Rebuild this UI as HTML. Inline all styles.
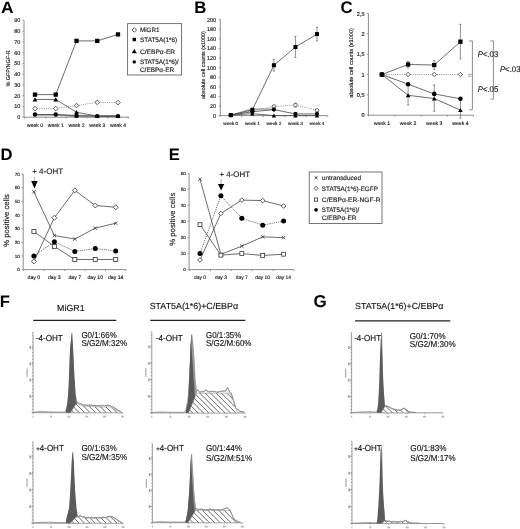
<!DOCTYPE html>
<html><head><meta charset="utf-8"><style>
html,body{margin:0;padding:0;background:#fff;width:520px;height:529px;overflow:hidden}
svg{display:block;filter:blur(0.3px)}
text{font-family:"Liberation Sans", sans-serif;text-rendering:geometricPrecision}
text{stroke:#222;stroke-width:0.14px}
text[font-weight=bold]{stroke:none}
</style></head><body>
<svg width="520" height="529" viewBox="0 0 520 529">
<rect width="520" height="529" fill="#fff"/>
<text x="1.00" y="12.80" font-size="16.4" font-weight="bold" fill="#000" textLength="12.6" lengthAdjust="spacingAndGlyphs">A</text>
<line x1="24.00" y1="20.40" x2="24.00" y2="117.20" stroke="#808080" stroke-width="0.9"/>
<line x1="22.50" y1="117.20" x2="24.00" y2="117.20" stroke="#808080" stroke-width="0.8"/>
<text x="20.30" y="119.15" font-size="5.5" text-anchor="end" fill="#111">0</text>
<line x1="22.50" y1="106.45" x2="24.00" y2="106.45" stroke="#808080" stroke-width="0.8"/>
<text x="20.30" y="108.40" font-size="5.5" text-anchor="end" fill="#111">10</text>
<line x1="22.50" y1="95.70" x2="24.00" y2="95.70" stroke="#808080" stroke-width="0.8"/>
<text x="20.30" y="97.65" font-size="5.5" text-anchor="end" fill="#111">20</text>
<line x1="22.50" y1="84.95" x2="24.00" y2="84.95" stroke="#808080" stroke-width="0.8"/>
<text x="20.30" y="86.90" font-size="5.5" text-anchor="end" fill="#111">30</text>
<line x1="22.50" y1="74.20" x2="24.00" y2="74.20" stroke="#808080" stroke-width="0.8"/>
<text x="20.30" y="76.15" font-size="5.5" text-anchor="end" fill="#111">40</text>
<line x1="22.50" y1="63.45" x2="24.00" y2="63.45" stroke="#808080" stroke-width="0.8"/>
<text x="20.30" y="65.40" font-size="5.5" text-anchor="end" fill="#111">50</text>
<line x1="22.50" y1="52.70" x2="24.00" y2="52.70" stroke="#808080" stroke-width="0.8"/>
<text x="20.30" y="54.65" font-size="5.5" text-anchor="end" fill="#111">60</text>
<line x1="22.50" y1="41.95" x2="24.00" y2="41.95" stroke="#808080" stroke-width="0.8"/>
<text x="20.30" y="43.90" font-size="5.5" text-anchor="end" fill="#111">70</text>
<line x1="22.50" y1="31.20" x2="24.00" y2="31.20" stroke="#808080" stroke-width="0.8"/>
<text x="20.30" y="33.15" font-size="5.5" text-anchor="end" fill="#111">80</text>
<line x1="22.50" y1="20.45" x2="24.00" y2="20.45" stroke="#808080" stroke-width="0.8"/>
<text x="20.30" y="22.40" font-size="5.5" text-anchor="end" fill="#111">90</text>
<line x1="24.00" y1="117.20" x2="128.90" y2="117.20" stroke="#808080" stroke-width="0.9"/>
<line x1="24.60" y1="117.20" x2="24.60" y2="118.70" stroke="#808080" stroke-width="0.8"/>
<line x1="45.35" y1="117.20" x2="45.35" y2="118.70" stroke="#808080" stroke-width="0.8"/>
<line x1="66.10" y1="117.20" x2="66.10" y2="118.70" stroke="#808080" stroke-width="0.8"/>
<line x1="86.85" y1="117.20" x2="86.85" y2="118.70" stroke="#808080" stroke-width="0.8"/>
<line x1="107.60" y1="117.20" x2="107.60" y2="118.70" stroke="#808080" stroke-width="0.8"/>
<line x1="128.35" y1="117.20" x2="128.35" y2="118.70" stroke="#808080" stroke-width="0.8"/>
<text x="35.00" y="126.80" font-size="5" text-anchor="middle" fill="#111">week 0</text>
<text x="55.75" y="126.80" font-size="5" text-anchor="middle" fill="#111">week 1</text>
<text x="76.50" y="126.80" font-size="5" text-anchor="middle" fill="#111">week 2</text>
<text x="97.25" y="126.80" font-size="5" text-anchor="middle" fill="#111">week 3</text>
<text x="118.00" y="126.80" font-size="5" text-anchor="middle" fill="#111">week 4</text>
<text x="10.50" y="68.40" font-size="5.5" text-anchor="middle" fill="#111" textLength="36.4" lengthAdjust="spacingAndGlyphs" transform="rotate(-90 10.50 68.40)">% GFP/NGF-R</text>
<polyline points="35.00,114.84 55.75,114.84 76.50,115.59 97.25,116.12 118.00,116.12" fill="none" stroke="#999" stroke-width="1.6" stroke-linejoin="round"/>
<polyline points="55.75,115.05 76.50,116.56 97.25,116.88" fill="none" stroke="#aaa" stroke-width="1.4" stroke-linejoin="round"/>
<polyline points="35.00,108.60 55.75,108.60 76.50,105.59 97.25,102.37 118.00,102.58" fill="none" stroke="#777" stroke-width="0.8" stroke-linejoin="round" stroke-dasharray="1,1.2"/>
<polyline points="35.00,114.51 55.75,114.51 76.50,115.91 97.25,116.12 118.00,116.12" fill="none" stroke="#464646" stroke-width="0.8" stroke-linejoin="round"/>
<polyline points="35.00,99.46 55.75,99.46 76.50,112.26 97.25,116.12 118.00,116.12" fill="none" stroke="#464646" stroke-width="0.8" stroke-linejoin="round"/>
<polyline points="35.00,94.62 55.75,94.62 76.50,40.88 97.25,40.88 118.00,34.43" fill="none" stroke="#464646" stroke-width="0.8" stroke-linejoin="round"/>
<polygon points="35.00,106.30 37.30,108.60 35.00,110.90 32.70,108.60" fill="#fff" stroke="#333" stroke-width="0.8"/>
<polygon points="55.75,106.30 58.05,108.60 55.75,110.90 53.45,108.60" fill="#fff" stroke="#333" stroke-width="0.8"/>
<polygon points="76.50,103.29 78.80,105.59 76.50,107.89 74.20,105.59" fill="#fff" stroke="#333" stroke-width="0.8"/>
<polygon points="97.25,100.07 99.55,102.37 97.25,104.67 94.95,102.37" fill="#fff" stroke="#333" stroke-width="0.8"/>
<polygon points="118.00,100.28 120.30,102.58 118.00,104.88 115.70,102.58" fill="#fff" stroke="#333" stroke-width="0.8"/>
<circle cx="35.00" cy="114.51" r="2.20" fill="#000"/>
<circle cx="55.75" cy="114.51" r="2.20" fill="#000"/>
<circle cx="76.50" cy="115.91" r="2.20" fill="#000"/>
<circle cx="97.25" cy="116.12" r="2.20" fill="#000"/>
<circle cx="118.00" cy="116.12" r="2.20" fill="#000"/>
<polygon points="35.00,97.26 37.42,101.44 32.58,101.44" fill="#000"/>
<polygon points="55.75,97.26 58.17,101.44 53.33,101.44" fill="#000"/>
<polygon points="76.50,110.06 78.92,114.24 74.08,114.24" fill="#000"/>
<polygon points="97.25,113.92 99.67,118.11 94.83,118.11" fill="#000"/>
<polygon points="118.00,113.92 120.42,118.11 115.58,118.11" fill="#000"/>
<rect x="32.85" y="92.47" width="4.30" height="4.30" fill="#000"/>
<rect x="53.60" y="92.47" width="4.30" height="4.30" fill="#000"/>
<rect x="74.35" y="38.73" width="4.30" height="4.30" fill="#000"/>
<rect x="95.10" y="38.73" width="4.30" height="4.30" fill="#000"/>
<rect x="115.85" y="32.28" width="4.30" height="4.30" fill="#000"/>
<rect x="127.6" y="23.6" width="54" height="51.4" fill="#fff" stroke="#666" stroke-width="0.9"/>
<polygon points="134.30,27.75 136.55,30.00 134.30,32.25 132.05,30.00" fill="#fff" stroke="#333" stroke-width="0.8"/>
<text x="139.90" y="32.30" font-size="6.4" fill="#1a1a1a" textLength="19.6" lengthAdjust="spacingAndGlyphs">MiGR1</text>
<rect x="132.60" y="37.80" width="3.40" height="3.40" fill="#000"/>
<text x="139.90" y="41.80" font-size="6.4" fill="#1a1a1a" textLength="37.3" lengthAdjust="spacingAndGlyphs">STAT5A(1*6)</text>
<polygon points="134.30,48.90 136.83,53.27 131.77,53.27" fill="#000"/>
<text x="139.90" y="53.50" font-size="6.4" fill="#1a1a1a" textLength="35.3" lengthAdjust="spacingAndGlyphs">C/EBP&#945;-ER</text>
<circle cx="134.30" cy="61.90" r="1.70" fill="#000"/>
<text x="139.90" y="64.20" font-size="6.4" fill="#1a1a1a" textLength="38.7" lengthAdjust="spacingAndGlyphs">STAT5A(1*6)/</text>
<text x="139.90" y="71.70" font-size="6.4" fill="#1a1a1a" textLength="34.4" lengthAdjust="spacingAndGlyphs">C/EBP&#945;-ER</text>
<text x="194.20" y="12.90" font-size="16.8" font-weight="bold" fill="#000">B</text>
<line x1="220.30" y1="19.40" x2="220.30" y2="115.60" stroke="#808080" stroke-width="0.9"/>
<line x1="218.80" y1="115.60" x2="220.30" y2="115.60" stroke="#808080" stroke-width="0.8"/>
<text x="216.10" y="117.55" font-size="5.5" text-anchor="end" fill="#111">0</text>
<line x1="218.80" y1="106.01" x2="220.30" y2="106.01" stroke="#808080" stroke-width="0.8"/>
<text x="216.10" y="107.96" font-size="5.5" text-anchor="end" fill="#111">20</text>
<line x1="218.80" y1="96.42" x2="220.30" y2="96.42" stroke="#808080" stroke-width="0.8"/>
<text x="216.10" y="98.37" font-size="5.5" text-anchor="end" fill="#111">40</text>
<line x1="218.80" y1="86.83" x2="220.30" y2="86.83" stroke="#808080" stroke-width="0.8"/>
<text x="216.10" y="88.78" font-size="5.5" text-anchor="end" fill="#111">60</text>
<line x1="218.80" y1="77.24" x2="220.30" y2="77.24" stroke="#808080" stroke-width="0.8"/>
<text x="216.10" y="79.19" font-size="5.5" text-anchor="end" fill="#111">80</text>
<line x1="218.80" y1="67.65" x2="220.30" y2="67.65" stroke="#808080" stroke-width="0.8"/>
<text x="216.10" y="69.60" font-size="5.5" text-anchor="end" fill="#111">100</text>
<line x1="218.80" y1="58.06" x2="220.30" y2="58.06" stroke="#808080" stroke-width="0.8"/>
<text x="216.10" y="60.01" font-size="5.5" text-anchor="end" fill="#111">120</text>
<line x1="218.80" y1="48.47" x2="220.30" y2="48.47" stroke="#808080" stroke-width="0.8"/>
<text x="216.10" y="50.42" font-size="5.5" text-anchor="end" fill="#111">140</text>
<line x1="218.80" y1="38.88" x2="220.30" y2="38.88" stroke="#808080" stroke-width="0.8"/>
<text x="216.10" y="40.83" font-size="5.5" text-anchor="end" fill="#111">160</text>
<line x1="218.80" y1="29.29" x2="220.30" y2="29.29" stroke="#808080" stroke-width="0.8"/>
<text x="216.10" y="31.24" font-size="5.5" text-anchor="end" fill="#111">180</text>
<line x1="218.80" y1="19.70" x2="220.30" y2="19.70" stroke="#808080" stroke-width="0.8"/>
<text x="216.10" y="21.65" font-size="5.5" text-anchor="end" fill="#111">200</text>
<line x1="220.30" y1="115.60" x2="327.30" y2="115.60" stroke="#808080" stroke-width="0.9"/>
<line x1="220.00" y1="115.60" x2="220.00" y2="117.10" stroke="#808080" stroke-width="0.8"/>
<line x1="241.55" y1="115.60" x2="241.55" y2="117.10" stroke="#808080" stroke-width="0.8"/>
<line x1="263.10" y1="115.60" x2="263.10" y2="117.10" stroke="#808080" stroke-width="0.8"/>
<line x1="284.65" y1="115.60" x2="284.65" y2="117.10" stroke="#808080" stroke-width="0.8"/>
<line x1="306.20" y1="115.60" x2="306.20" y2="117.10" stroke="#808080" stroke-width="0.8"/>
<line x1="327.75" y1="115.60" x2="327.75" y2="117.10" stroke="#808080" stroke-width="0.8"/>
<text x="230.80" y="124.50" font-size="4.7" text-anchor="middle" fill="#111">week 0</text>
<text x="252.35" y="124.50" font-size="4.7" text-anchor="middle" fill="#111">week 1</text>
<text x="273.90" y="124.50" font-size="4.7" text-anchor="middle" fill="#111">week 2</text>
<text x="295.45" y="124.50" font-size="4.7" text-anchor="middle" fill="#111">week 3</text>
<text x="317.00" y="124.50" font-size="4.7" text-anchor="middle" fill="#111">week 4</text>
<text x="204.70" y="65.10" font-size="5.4" text-anchor="middle" fill="#111" textLength="68.0" lengthAdjust="spacingAndGlyphs" transform="rotate(-90 204.70 65.10)">absolute cell counts (x1000)</text>
<polyline points="230.80,115.12 252.35,108.89 273.90,109.37" fill="none" stroke="#aaa" stroke-width="1.5" stroke-linejoin="round"/>
<polyline points="230.80,115.12 252.35,110.80 273.90,106.49 295.45,105.05 317.00,110.33" fill="none" stroke="#777" stroke-width="0.8" stroke-linejoin="round" stroke-dasharray="1,1.2"/>
<polyline points="230.80,115.12 252.35,113.68 273.90,115.60 295.45,115.60 317.00,115.60" fill="none" stroke="#464646" stroke-width="0.8" stroke-linejoin="round"/>
<polyline points="230.80,115.12 252.35,111.76 273.90,109.61 295.45,113.92 317.00,113.92" fill="none" stroke="#464646" stroke-width="0.8" stroke-linejoin="round"/>
<polyline points="230.80,115.12 252.35,109.85 273.90,65.25 295.45,47.03 317.00,34.08" fill="none" stroke="#464646" stroke-width="0.8" stroke-linejoin="round"/>
<line x1="273.90" y1="59.50" x2="273.90" y2="71.01" stroke="#666" stroke-width="0.7"/>
<line x1="272.80" y1="59.50" x2="275.00" y2="59.50" stroke="#666" stroke-width="0.7"/>
<line x1="272.80" y1="71.01" x2="275.00" y2="71.01" stroke="#666" stroke-width="0.7"/>
<line x1="295.45" y1="36.48" x2="295.45" y2="57.58" stroke="#666" stroke-width="0.7"/>
<line x1="294.35" y1="36.48" x2="296.55" y2="36.48" stroke="#666" stroke-width="0.7"/>
<line x1="294.35" y1="57.58" x2="296.55" y2="57.58" stroke="#666" stroke-width="0.7"/>
<line x1="317.00" y1="27.37" x2="317.00" y2="40.80" stroke="#666" stroke-width="0.7"/>
<line x1="315.90" y1="27.37" x2="318.10" y2="27.37" stroke="#666" stroke-width="0.7"/>
<line x1="315.90" y1="40.80" x2="318.10" y2="40.80" stroke="#666" stroke-width="0.7"/>
<line x1="295.45" y1="103.13" x2="295.45" y2="106.97" stroke="#666" stroke-width="0.7"/>
<line x1="294.35" y1="103.13" x2="296.55" y2="103.13" stroke="#666" stroke-width="0.7"/>
<line x1="294.35" y1="106.97" x2="296.55" y2="106.97" stroke="#666" stroke-width="0.7"/>
<line x1="252.35" y1="107.93" x2="252.35" y2="112.24" stroke="#666" stroke-width="0.7"/>
<line x1="251.25" y1="107.93" x2="253.45" y2="107.93" stroke="#666" stroke-width="0.7"/>
<line x1="251.25" y1="112.24" x2="253.45" y2="112.24" stroke="#666" stroke-width="0.7"/>
<circle cx="230.80" cy="115.12" r="1.80" fill="#fff" stroke="#444" stroke-width="0.8"/>
<circle cx="252.35" cy="110.80" r="1.80" fill="#fff" stroke="#444" stroke-width="0.8"/>
<circle cx="273.90" cy="106.49" r="1.80" fill="#fff" stroke="#444" stroke-width="0.8"/>
<circle cx="295.45" cy="105.05" r="1.80" fill="#fff" stroke="#444" stroke-width="0.8"/>
<circle cx="317.00" cy="110.33" r="1.80" fill="#fff" stroke="#444" stroke-width="0.8"/>
<polygon points="230.80,113.12 233.00,116.92 228.60,116.92" fill="#000"/>
<polygon points="252.35,111.68 254.55,115.48 250.15,115.48" fill="#000"/>
<polygon points="273.90,113.60 276.10,117.40 271.70,117.40" fill="#000"/>
<polygon points="295.45,113.60 297.65,117.40 293.25,117.40" fill="#000"/>
<polygon points="317.00,113.60 319.20,117.40 314.80,117.40" fill="#000"/>
<rect x="228.80" y="113.12" width="4.00" height="4.00" fill="#000"/>
<rect x="250.35" y="107.85" width="4.00" height="4.00" fill="#000"/>
<rect x="271.90" y="63.25" width="4.00" height="4.00" fill="#000"/>
<rect x="293.45" y="45.03" width="4.00" height="4.00" fill="#000"/>
<rect x="315.00" y="32.08" width="4.00" height="4.00" fill="#000"/>
<circle cx="230.80" cy="115.12" r="2.10" fill="#000"/>
<circle cx="252.35" cy="111.76" r="2.10" fill="#000"/>
<circle cx="273.90" cy="109.61" r="2.10" fill="#000"/>
<circle cx="295.45" cy="113.92" r="2.10" fill="#000"/>
<circle cx="317.00" cy="113.92" r="2.10" fill="#000"/>
<text x="340.40" y="13.00" font-size="16.8" font-weight="bold" fill="#000">C</text>
<line x1="368.40" y1="13.30" x2="368.40" y2="115.20" stroke="#808080" stroke-width="0.9"/>
<line x1="366.90" y1="115.20" x2="368.40" y2="115.20" stroke="#808080" stroke-width="0.8"/>
<text x="364.50" y="117.25" font-size="5.6" text-anchor="end" fill="#111">0</text>
<line x1="366.90" y1="94.85" x2="368.40" y2="94.85" stroke="#808080" stroke-width="0.8"/>
<text x="364.50" y="96.90" font-size="5.6" text-anchor="end" fill="#111">0,5</text>
<line x1="366.90" y1="74.50" x2="368.40" y2="74.50" stroke="#808080" stroke-width="0.8"/>
<text x="364.50" y="76.55" font-size="5.6" text-anchor="end" fill="#111">1</text>
<line x1="366.90" y1="54.15" x2="368.40" y2="54.15" stroke="#808080" stroke-width="0.8"/>
<text x="364.50" y="56.20" font-size="5.6" text-anchor="end" fill="#111">1,5</text>
<line x1="366.90" y1="33.80" x2="368.40" y2="33.80" stroke="#808080" stroke-width="0.8"/>
<text x="364.50" y="35.85" font-size="5.6" text-anchor="end" fill="#111">2</text>
<line x1="366.90" y1="13.45" x2="368.40" y2="13.45" stroke="#808080" stroke-width="0.8"/>
<text x="364.50" y="15.50" font-size="5.6" text-anchor="end" fill="#111">2,5</text>
<line x1="368.40" y1="115.20" x2="473.30" y2="115.20" stroke="#808080" stroke-width="0.9"/>
<line x1="368.80" y1="115.20" x2="368.80" y2="116.70" stroke="#808080" stroke-width="0.8"/>
<line x1="394.97" y1="115.20" x2="394.97" y2="116.70" stroke="#808080" stroke-width="0.8"/>
<line x1="421.14" y1="115.20" x2="421.14" y2="116.70" stroke="#808080" stroke-width="0.8"/>
<line x1="447.31" y1="115.20" x2="447.31" y2="116.70" stroke="#808080" stroke-width="0.8"/>
<line x1="473.48" y1="115.20" x2="473.48" y2="116.70" stroke="#808080" stroke-width="0.8"/>
<text x="381.90" y="125.00" font-size="5.2" text-anchor="middle" fill="#111">week 1</text>
<text x="408.07" y="125.00" font-size="5.2" text-anchor="middle" fill="#111">week 2</text>
<text x="434.24" y="125.00" font-size="5.2" text-anchor="middle" fill="#111">week 3</text>
<text x="460.41" y="125.00" font-size="5.2" text-anchor="middle" fill="#111">week 4</text>
<text x="352.70" y="62.90" font-size="5.5" text-anchor="middle" fill="#111" textLength="69.6" lengthAdjust="spacingAndGlyphs" transform="rotate(-90 352.70 62.90)">absolute cell counts (x1000)</text>
<polyline points="381.90,74.50 408.07,74.50 434.24,74.50 460.41,74.50" fill="none" stroke="#777" stroke-width="0.8" stroke-linejoin="round" stroke-dasharray="1,1.2"/>
<polyline points="381.90,74.50 408.07,95.30 434.24,98.51 460.41,110.11" fill="none" stroke="#464646" stroke-width="0.8" stroke-linejoin="round"/>
<polyline points="381.90,74.50 408.07,84.19 434.24,93.91 460.41,98.80" fill="none" stroke="#464646" stroke-width="0.8" stroke-linejoin="round"/>
<polyline points="381.90,74.50 408.07,64.49 434.24,65.02 460.41,41.70" fill="none" stroke="#464646" stroke-width="0.8" stroke-linejoin="round"/>
<line x1="408.07" y1="61.52" x2="408.07" y2="67.99" stroke="#666" stroke-width="0.7"/>
<line x1="406.97" y1="61.52" x2="409.17" y2="61.52" stroke="#666" stroke-width="0.7"/>
<line x1="406.97" y1="67.99" x2="409.17" y2="67.99" stroke="#666" stroke-width="0.7"/>
<line x1="434.24" y1="60.42" x2="434.24" y2="69.62" stroke="#666" stroke-width="0.7"/>
<line x1="433.14" y1="60.42" x2="435.34" y2="60.42" stroke="#666" stroke-width="0.7"/>
<line x1="433.14" y1="69.62" x2="435.34" y2="69.62" stroke="#666" stroke-width="0.7"/>
<line x1="460.41" y1="24.32" x2="460.41" y2="58.79" stroke="#666" stroke-width="0.7"/>
<line x1="459.31" y1="24.32" x2="461.51" y2="24.32" stroke="#666" stroke-width="0.7"/>
<line x1="459.31" y1="58.79" x2="461.51" y2="58.79" stroke="#666" stroke-width="0.7"/>
<line x1="408.07" y1="85.29" x2="408.07" y2="105.03" stroke="#666" stroke-width="0.7"/>
<line x1="406.97" y1="85.29" x2="409.17" y2="85.29" stroke="#666" stroke-width="0.7"/>
<line x1="406.97" y1="105.03" x2="409.17" y2="105.03" stroke="#666" stroke-width="0.7"/>
<line x1="434.24" y1="85.00" x2="434.24" y2="111.21" stroke="#666" stroke-width="0.7"/>
<line x1="433.14" y1="85.00" x2="435.34" y2="85.00" stroke="#666" stroke-width="0.7"/>
<line x1="433.14" y1="111.21" x2="435.34" y2="111.21" stroke="#666" stroke-width="0.7"/>
<line x1="460.41" y1="98.80" x2="460.41" y2="118.05" stroke="#666" stroke-width="0.7"/>
<line x1="459.31" y1="98.80" x2="461.51" y2="98.80" stroke="#666" stroke-width="0.7"/>
<line x1="459.31" y1="118.05" x2="461.51" y2="118.05" stroke="#666" stroke-width="0.7"/>
<polygon points="381.90,72.30 384.10,74.50 381.90,76.70 379.70,74.50" fill="#fff" stroke="#333" stroke-width="0.8"/>
<polygon points="408.07,72.30 410.27,74.50 408.07,76.70 405.87,74.50" fill="#fff" stroke="#333" stroke-width="0.8"/>
<polygon points="434.24,72.30 436.44,74.50 434.24,76.70 432.04,74.50" fill="#fff" stroke="#333" stroke-width="0.8"/>
<polygon points="460.41,72.30 462.61,74.50 460.41,76.70 458.21,74.50" fill="#fff" stroke="#333" stroke-width="0.8"/>
<polygon points="381.90,72.40 384.21,76.39 379.59,76.39" fill="#000"/>
<polygon points="408.07,93.20 410.38,97.19 405.76,97.19" fill="#000"/>
<polygon points="434.24,96.41 436.55,100.40 431.93,100.40" fill="#000"/>
<polygon points="460.41,108.01 462.72,112.00 458.10,112.00" fill="#000"/>
<circle cx="381.90" cy="74.50" r="2.30" fill="#000"/>
<circle cx="408.07" cy="84.19" r="2.30" fill="#000"/>
<circle cx="434.24" cy="93.91" r="2.30" fill="#000"/>
<circle cx="460.41" cy="98.80" r="2.30" fill="#000"/>
<rect x="379.75" y="72.35" width="4.30" height="4.30" fill="#000"/>
<rect x="405.92" y="62.34" width="4.30" height="4.30" fill="#000"/>
<rect x="432.09" y="62.87" width="4.30" height="4.30" fill="#000"/>
<rect x="458.26" y="39.55" width="4.30" height="4.30" fill="#000"/>
<polyline points="469.20,41.00 472.40,41.00 472.40,109.80 469.20,109.80" fill="none" stroke="#808080" stroke-width="0.9" stroke-linejoin="round"/>
<line x1="468.20" y1="74.40" x2="471.60" y2="74.40" stroke="#808080" stroke-width="0.7"/>
<line x1="468.20" y1="76.20" x2="471.60" y2="76.20" stroke="#808080" stroke-width="0.7"/>
<polyline points="490.40,40.90 493.40,40.90 493.40,99.10 490.40,99.10" fill="none" stroke="#808080" stroke-width="0.9" stroke-linejoin="round"/>
<text x="477.70" y="57.10" font-size="8.3" fill="#222" textLength="20.6" lengthAdjust="spacingAndGlyphs"><tspan font-style="italic">P</tspan>&lt;.03</text>
<text x="477.70" y="92.20" font-size="8.3" fill="#222" textLength="20.6" lengthAdjust="spacingAndGlyphs"><tspan font-style="italic">P</tspan>&lt;.05</text>
<text x="499.90" y="72.00" font-size="8.3" fill="#222" textLength="20.6" lengthAdjust="spacingAndGlyphs"><tspan font-style="italic">P</tspan>&lt;.03</text>
<text x="0.40" y="159.80" font-size="16.6" font-weight="bold" fill="#000">D</text>
<line x1="23.20" y1="174.00" x2="23.20" y2="269.60" stroke="#808080" stroke-width="0.9"/>
<line x1="21.70" y1="269.60" x2="23.20" y2="269.60" stroke="#808080" stroke-width="0.8"/>
<text x="19.70" y="271.20" font-size="4.5" text-anchor="end" fill="#111">0</text>
<line x1="21.70" y1="255.96" x2="23.20" y2="255.96" stroke="#808080" stroke-width="0.8"/>
<text x="19.70" y="257.56" font-size="4.5" text-anchor="end" fill="#111">10</text>
<line x1="21.70" y1="242.32" x2="23.20" y2="242.32" stroke="#808080" stroke-width="0.8"/>
<text x="19.70" y="243.92" font-size="4.5" text-anchor="end" fill="#111">20</text>
<line x1="21.70" y1="228.68" x2="23.20" y2="228.68" stroke="#808080" stroke-width="0.8"/>
<text x="19.70" y="230.28" font-size="4.5" text-anchor="end" fill="#111">30</text>
<line x1="21.70" y1="215.04" x2="23.20" y2="215.04" stroke="#808080" stroke-width="0.8"/>
<text x="19.70" y="216.64" font-size="4.5" text-anchor="end" fill="#111">40</text>
<line x1="21.70" y1="201.40" x2="23.20" y2="201.40" stroke="#808080" stroke-width="0.8"/>
<text x="19.70" y="203.00" font-size="4.5" text-anchor="end" fill="#111">50</text>
<line x1="21.70" y1="187.76" x2="23.20" y2="187.76" stroke="#808080" stroke-width="0.8"/>
<text x="19.70" y="189.36" font-size="4.5" text-anchor="end" fill="#111">60</text>
<line x1="21.70" y1="174.12" x2="23.20" y2="174.12" stroke="#808080" stroke-width="0.8"/>
<text x="19.70" y="175.72" font-size="4.5" text-anchor="end" fill="#111">70</text>
<line x1="23.20" y1="269.60" x2="126.20" y2="269.60" stroke="#808080" stroke-width="0.9"/>
<line x1="23.70" y1="269.60" x2="23.70" y2="271.10" stroke="#808080" stroke-width="0.8"/>
<line x1="44.15" y1="269.60" x2="44.15" y2="271.10" stroke="#808080" stroke-width="0.8"/>
<line x1="64.60" y1="269.60" x2="64.60" y2="271.10" stroke="#808080" stroke-width="0.8"/>
<line x1="85.05" y1="269.60" x2="85.05" y2="271.10" stroke="#808080" stroke-width="0.8"/>
<line x1="105.50" y1="269.60" x2="105.50" y2="271.10" stroke="#808080" stroke-width="0.8"/>
<line x1="125.95" y1="269.60" x2="125.95" y2="271.10" stroke="#808080" stroke-width="0.8"/>
<text x="33.90" y="279.30" font-size="5.2" text-anchor="middle" fill="#111">day 0</text>
<text x="54.35" y="279.30" font-size="5.2" text-anchor="middle" fill="#111">day 3</text>
<text x="74.80" y="279.30" font-size="5.2" text-anchor="middle" fill="#111">day 7</text>
<text x="95.25" y="279.30" font-size="5.2" text-anchor="middle" fill="#111">day 10</text>
<text x="115.70" y="279.30" font-size="5.2" text-anchor="middle" fill="#111">day 14</text>
<text x="8.60" y="220.40" font-size="7.7" text-anchor="middle" fill="#111" textLength="52.6" lengthAdjust="spacingAndGlyphs" transform="rotate(-90 8.60 220.40)">% positive cells</text>
<polyline points="33.90,255.96 54.35,241.64 74.80,251.46 95.25,248.59 115.70,250.91" fill="none" stroke="#555" stroke-width="0.9" stroke-linejoin="round" stroke-dasharray="1.1,1.1"/>
<polyline points="33.90,191.85 54.35,235.50 74.80,239.05 95.25,228.13 115.70,223.22" fill="none" stroke="#464646" stroke-width="0.8" stroke-linejoin="round"/>
<polyline points="33.90,261.42 54.35,217.77 74.80,190.35 95.25,205.49 115.70,207.27" fill="none" stroke="#464646" stroke-width="0.8" stroke-linejoin="round"/>
<polyline points="33.90,231.41 54.35,246.41 74.80,259.51 95.25,259.51 115.70,259.51" fill="none" stroke="#464646" stroke-width="0.8" stroke-linejoin="round"/>
<path d="M32.20,190.15L35.60,193.55M35.60,190.15L32.20,193.55" stroke="#333" stroke-width="0.8"/>
<path d="M52.65,233.80L56.05,237.20M56.05,233.80L52.65,237.20" stroke="#333" stroke-width="0.8"/>
<path d="M73.10,237.35L76.50,240.75M76.50,237.35L73.10,240.75" stroke="#333" stroke-width="0.8"/>
<path d="M93.55,226.43L96.95,229.83M96.95,226.43L93.55,229.83" stroke="#333" stroke-width="0.8"/>
<path d="M114.00,221.52L117.40,224.92M117.40,221.52L114.00,224.92" stroke="#333" stroke-width="0.8"/>
<polygon points="33.90,258.92 36.40,261.42 33.90,263.92 31.40,261.42" fill="#fff" stroke="#333" stroke-width="0.8"/>
<polygon points="54.35,215.27 56.85,217.77 54.35,220.27 51.85,217.77" fill="#fff" stroke="#333" stroke-width="0.8"/>
<polygon points="74.80,187.85 77.30,190.35 74.80,192.85 72.30,190.35" fill="#fff" stroke="#333" stroke-width="0.8"/>
<polygon points="95.25,202.99 97.75,205.49 95.25,207.99 92.75,205.49" fill="#fff" stroke="#333" stroke-width="0.8"/>
<polygon points="115.70,204.77 118.20,207.27 115.70,209.77 113.20,207.27" fill="#fff" stroke="#333" stroke-width="0.8"/>
<rect x="31.90" y="229.41" width="4.00" height="4.00" fill="#fff" stroke="#333" stroke-width="0.8"/>
<rect x="52.35" y="244.41" width="4.00" height="4.00" fill="#fff" stroke="#333" stroke-width="0.8"/>
<rect x="72.80" y="257.51" width="4.00" height="4.00" fill="#fff" stroke="#333" stroke-width="0.8"/>
<rect x="93.25" y="257.51" width="4.00" height="4.00" fill="#fff" stroke="#333" stroke-width="0.8"/>
<rect x="113.70" y="257.51" width="4.00" height="4.00" fill="#fff" stroke="#333" stroke-width="0.8"/>
<circle cx="33.90" cy="255.96" r="2.50" fill="#000"/>
<circle cx="54.35" cy="241.64" r="2.50" fill="#000"/>
<circle cx="74.80" cy="251.46" r="2.50" fill="#000"/>
<circle cx="95.25" cy="248.59" r="2.50" fill="#000"/>
<circle cx="115.70" cy="250.91" r="2.50" fill="#000"/>
<text x="32.20" y="174.00" font-size="8.0" fill="#111" textLength="30.9" lengthAdjust="spacingAndGlyphs">+ 4-OHT</text>
<line x1="34.45" y1="176.90" x2="34.45" y2="182.00" stroke="#999" stroke-width="0.8"/>
<polygon points="31.2,181.1 37.7,181.1 34.45,188.4" fill="#000"/>
<text x="168.80" y="159.70" font-size="16.6" font-weight="bold" fill="#000">E</text>
<line x1="189.10" y1="173.30" x2="189.10" y2="269.60" stroke="#808080" stroke-width="0.9"/>
<line x1="187.60" y1="269.60" x2="189.10" y2="269.60" stroke="#808080" stroke-width="0.8"/>
<text x="185.90" y="271.20" font-size="4.6" text-anchor="end" fill="#111">0</text>
<line x1="187.60" y1="253.55" x2="189.10" y2="253.55" stroke="#808080" stroke-width="0.8"/>
<text x="185.90" y="255.15" font-size="4.6" text-anchor="end" fill="#111">10</text>
<line x1="187.60" y1="237.50" x2="189.10" y2="237.50" stroke="#808080" stroke-width="0.8"/>
<text x="185.90" y="239.10" font-size="4.6" text-anchor="end" fill="#111">20</text>
<line x1="187.60" y1="221.45" x2="189.10" y2="221.45" stroke="#808080" stroke-width="0.8"/>
<text x="185.90" y="223.05" font-size="4.6" text-anchor="end" fill="#111">30</text>
<line x1="187.60" y1="205.40" x2="189.10" y2="205.40" stroke="#808080" stroke-width="0.8"/>
<text x="185.90" y="207.00" font-size="4.6" text-anchor="end" fill="#111">40</text>
<line x1="187.60" y1="189.35" x2="189.10" y2="189.35" stroke="#808080" stroke-width="0.8"/>
<text x="185.90" y="190.95" font-size="4.6" text-anchor="end" fill="#111">50</text>
<line x1="187.60" y1="173.30" x2="189.10" y2="173.30" stroke="#808080" stroke-width="0.8"/>
<text x="185.90" y="174.90" font-size="4.6" text-anchor="end" fill="#111">60</text>
<line x1="189.10" y1="269.60" x2="293.70" y2="269.60" stroke="#808080" stroke-width="0.9"/>
<line x1="189.60" y1="269.60" x2="189.60" y2="271.10" stroke="#808080" stroke-width="0.8"/>
<line x1="210.50" y1="269.60" x2="210.50" y2="271.10" stroke="#808080" stroke-width="0.8"/>
<line x1="231.40" y1="269.60" x2="231.40" y2="271.10" stroke="#808080" stroke-width="0.8"/>
<line x1="252.30" y1="269.60" x2="252.30" y2="271.10" stroke="#808080" stroke-width="0.8"/>
<line x1="273.20" y1="269.60" x2="273.20" y2="271.10" stroke="#808080" stroke-width="0.8"/>
<line x1="294.10" y1="269.60" x2="294.10" y2="271.10" stroke="#808080" stroke-width="0.8"/>
<text x="200.00" y="279.00" font-size="4.9" text-anchor="middle" fill="#111">day 0</text>
<text x="220.90" y="279.00" font-size="4.9" text-anchor="middle" fill="#111">day 3</text>
<text x="241.80" y="279.00" font-size="4.9" text-anchor="middle" fill="#111">day 7</text>
<text x="262.70" y="279.00" font-size="4.9" text-anchor="middle" fill="#111">day 10</text>
<text x="283.60" y="279.00" font-size="4.9" text-anchor="middle" fill="#111">day 14</text>
<text x="175.20" y="219.20" font-size="7.7" text-anchor="middle" fill="#111" textLength="53.2" lengthAdjust="spacingAndGlyphs" transform="rotate(-90 175.20 219.20)">% positive cells</text>
<polyline points="200.00,253.55 220.90,195.77 241.80,218.24 262.70,225.14 283.60,220.97" fill="none" stroke="#555" stroke-width="0.9" stroke-linejoin="round" stroke-dasharray="1.1,1.1"/>
<polyline points="200.00,179.24 220.90,254.35 241.80,246.17 262.70,236.86 283.60,237.66" fill="none" stroke="#464646" stroke-width="0.8" stroke-linejoin="round"/>
<polyline points="200.00,259.97 220.90,213.43 241.80,200.10 262.70,200.59 283.60,206.04" fill="none" stroke="#464646" stroke-width="0.8" stroke-linejoin="round"/>
<polyline points="200.00,224.66 220.90,255.16 241.80,253.55 262.70,255.48 283.60,254.19" fill="none" stroke="#464646" stroke-width="0.8" stroke-linejoin="round"/>
<path d="M198.30,177.54L201.70,180.94M201.70,177.54L198.30,180.94" stroke="#333" stroke-width="0.8"/>
<path d="M219.20,252.65L222.60,256.05M222.60,252.65L219.20,256.05" stroke="#333" stroke-width="0.8"/>
<path d="M240.10,244.47L243.50,247.87M243.50,244.47L240.10,247.87" stroke="#333" stroke-width="0.8"/>
<path d="M261.00,235.16L264.40,238.56M264.40,235.16L261.00,238.56" stroke="#333" stroke-width="0.8"/>
<path d="M281.90,235.96L285.30,239.36M285.30,235.96L281.90,239.36" stroke="#333" stroke-width="0.8"/>
<polygon points="200.00,257.67 202.30,259.97 200.00,262.27 197.70,259.97" fill="#fff" stroke="#333" stroke-width="0.8"/>
<polygon points="220.90,211.12 223.20,213.43 220.90,215.73 218.60,213.43" fill="#fff" stroke="#333" stroke-width="0.8"/>
<polygon points="241.80,197.80 244.10,200.10 241.80,202.40 239.50,200.10" fill="#fff" stroke="#333" stroke-width="0.8"/>
<polygon points="262.70,198.29 265.00,200.59 262.70,202.89 260.40,200.59" fill="#fff" stroke="#333" stroke-width="0.8"/>
<polygon points="283.60,203.74 285.90,206.04 283.60,208.34 281.30,206.04" fill="#fff" stroke="#333" stroke-width="0.8"/>
<rect x="198.05" y="222.71" width="3.90" height="3.90" fill="#fff" stroke="#333" stroke-width="0.8"/>
<rect x="218.95" y="253.21" width="3.90" height="3.90" fill="#fff" stroke="#333" stroke-width="0.8"/>
<rect x="239.85" y="251.60" width="3.90" height="3.90" fill="#fff" stroke="#333" stroke-width="0.8"/>
<rect x="260.75" y="253.53" width="3.90" height="3.90" fill="#fff" stroke="#333" stroke-width="0.8"/>
<rect x="281.65" y="252.24" width="3.90" height="3.90" fill="#fff" stroke="#333" stroke-width="0.8"/>
<circle cx="200.00" cy="253.55" r="2.50" fill="#000"/>
<circle cx="220.90" cy="195.77" r="2.50" fill="#000"/>
<circle cx="241.80" cy="218.24" r="2.50" fill="#000"/>
<circle cx="262.70" cy="225.14" r="2.50" fill="#000"/>
<circle cx="283.60" cy="220.97" r="2.50" fill="#000"/>
<text x="219.40" y="177.30" font-size="8.0" fill="#111" textLength="30.8" lengthAdjust="spacingAndGlyphs">+ 4-OHT</text>
<line x1="221.10" y1="179.00" x2="221.10" y2="184.50" stroke="#aaa" stroke-width="1.0"/>
<polygon points="217.9,183.9 224.3,183.9 221.1,190.6" fill="#000"/>
<rect x="309.2" y="172.0" width="72.8" height="51.5" fill="#fff" stroke="#666" stroke-width="0.9"/>
<path d="M314.70,176.30L317.50,179.10M317.50,176.30L314.70,179.10" stroke="#333" stroke-width="1.0"/>
<text x="321.80" y="180.00" font-size="6.4" fill="#1a1a1a" textLength="39.2" lengthAdjust="spacingAndGlyphs">untransduced</text>
<polygon points="316.10,186.25 318.25,188.40 316.10,190.55 313.95,188.40" fill="#fff" stroke="#333" stroke-width="0.8"/>
<text x="321.80" y="190.70" font-size="6.4" fill="#1a1a1a" textLength="56.1" lengthAdjust="spacingAndGlyphs">STAT5A(1*6)-EGFP</text>
<rect x="314.50" y="198.00" width="3.20" height="3.20" fill="#fff" stroke="#333" stroke-width="0.8"/>
<text x="321.80" y="201.90" font-size="6.4" fill="#1a1a1a" textLength="58.9" lengthAdjust="spacingAndGlyphs">C/EBP&#945;-ER-NGF-R</text>
<circle cx="316.10" cy="209.90" r="1.80" fill="#000"/>
<text x="321.80" y="212.20" font-size="6.4" fill="#1a1a1a" textLength="37.4" lengthAdjust="spacingAndGlyphs">STAT5A(1*6)/</text>
<text x="321.80" y="220.40" font-size="6.4" fill="#1a1a1a" textLength="34.8" lengthAdjust="spacingAndGlyphs">C/EBP&#945;-ER</text>
<text x="-0.20" y="306.90" font-size="16.6" font-weight="bold" fill="#000">F</text>
<text x="313.60" y="306.60" font-size="17.2" font-weight="bold" fill="#000" textLength="13.2" lengthAdjust="spacingAndGlyphs">G</text>
<text x="57.10" y="310.60" font-size="8.8" fill="#111" textLength="27.5" lengthAdjust="spacingAndGlyphs">MiGR1</text>
<line x1="33.20" y1="320.30" x2="116.30" y2="320.30" stroke="#222" stroke-width="1.3"/>
<text x="149.70" y="309.00" font-size="8.8" fill="#111" textLength="88.4" lengthAdjust="spacingAndGlyphs">STAT5A(1*6)+C/EBP&#945;</text>
<line x1="150.30" y1="320.40" x2="245.40" y2="320.40" stroke="#222" stroke-width="1.3"/>
<text x="355.10" y="309.10" font-size="8.8" fill="#111" textLength="88.3" lengthAdjust="spacingAndGlyphs">STAT5A(1*6)+C/EBP&#945;</text>
<line x1="355.10" y1="320.90" x2="450.30" y2="320.90" stroke="#222" stroke-width="1.3"/>
<line x1="33.10" y1="332.40" x2="33.10" y2="412.70" stroke="#8a8a8a" stroke-width="0.8"/>
<line x1="32.00" y1="412.70" x2="33.10" y2="412.70" stroke="#777" stroke-width="0.6"/>
<line x1="32.00" y1="409.35" x2="33.10" y2="409.35" stroke="#777" stroke-width="0.6"/>
<line x1="32.00" y1="406.01" x2="33.10" y2="406.01" stroke="#777" stroke-width="0.6"/>
<line x1="32.00" y1="402.66" x2="33.10" y2="402.66" stroke="#777" stroke-width="0.6"/>
<line x1="32.00" y1="399.32" x2="33.10" y2="399.32" stroke="#777" stroke-width="0.6"/>
<line x1="32.00" y1="395.97" x2="33.10" y2="395.97" stroke="#777" stroke-width="0.6"/>
<line x1="32.00" y1="392.62" x2="33.10" y2="392.62" stroke="#777" stroke-width="0.6"/>
<line x1="32.00" y1="389.28" x2="33.10" y2="389.28" stroke="#777" stroke-width="0.6"/>
<line x1="32.00" y1="385.93" x2="33.10" y2="385.93" stroke="#777" stroke-width="0.6"/>
<line x1="32.00" y1="382.59" x2="33.10" y2="382.59" stroke="#777" stroke-width="0.6"/>
<line x1="32.00" y1="379.24" x2="33.10" y2="379.24" stroke="#777" stroke-width="0.6"/>
<line x1="32.00" y1="375.90" x2="33.10" y2="375.90" stroke="#777" stroke-width="0.6"/>
<line x1="32.00" y1="372.55" x2="33.10" y2="372.55" stroke="#777" stroke-width="0.6"/>
<line x1="32.00" y1="369.20" x2="33.10" y2="369.20" stroke="#777" stroke-width="0.6"/>
<line x1="32.00" y1="365.86" x2="33.10" y2="365.86" stroke="#777" stroke-width="0.6"/>
<line x1="32.00" y1="362.51" x2="33.10" y2="362.51" stroke="#777" stroke-width="0.6"/>
<line x1="32.00" y1="359.17" x2="33.10" y2="359.17" stroke="#777" stroke-width="0.6"/>
<line x1="32.00" y1="355.82" x2="33.10" y2="355.82" stroke="#777" stroke-width="0.6"/>
<line x1="32.00" y1="352.47" x2="33.10" y2="352.47" stroke="#777" stroke-width="0.6"/>
<line x1="32.00" y1="349.13" x2="33.10" y2="349.13" stroke="#777" stroke-width="0.6"/>
<line x1="32.00" y1="345.78" x2="33.10" y2="345.78" stroke="#777" stroke-width="0.6"/>
<line x1="32.00" y1="342.44" x2="33.10" y2="342.44" stroke="#777" stroke-width="0.6"/>
<line x1="32.00" y1="339.09" x2="33.10" y2="339.09" stroke="#777" stroke-width="0.6"/>
<line x1="32.00" y1="335.75" x2="33.10" y2="335.75" stroke="#777" stroke-width="0.6"/>
<line x1="32.00" y1="332.40" x2="33.10" y2="332.40" stroke="#777" stroke-width="0.6"/>
<line x1="31.50" y1="412.70" x2="33.10" y2="412.70" stroke="#777" stroke-width="0.7"/>
<line x1="31.50" y1="396.38" x2="33.10" y2="396.38" stroke="#777" stroke-width="0.7"/>
<line x1="31.50" y1="380.05" x2="33.10" y2="380.05" stroke="#777" stroke-width="0.7"/>
<line x1="31.50" y1="363.72" x2="33.10" y2="363.72" stroke="#777" stroke-width="0.7"/>
<line x1="31.50" y1="347.40" x2="33.10" y2="347.40" stroke="#777" stroke-width="0.7"/>
<line x1="33.10" y1="412.70" x2="122.50" y2="412.70" stroke="#8a8a8a" stroke-width="0.9"/>
<line x1="33.10" y1="412.70" x2="33.10" y2="414.20" stroke="#999" stroke-width="0.6"/>
<line x1="50.98" y1="412.70" x2="50.98" y2="414.20" stroke="#999" stroke-width="0.6"/>
<line x1="68.86" y1="412.70" x2="68.86" y2="414.20" stroke="#999" stroke-width="0.6"/>
<line x1="86.74" y1="412.70" x2="86.74" y2="414.20" stroke="#999" stroke-width="0.6"/>
<line x1="104.62" y1="412.70" x2="104.62" y2="414.20" stroke="#999" stroke-width="0.6"/>
<line x1="122.50" y1="412.70" x2="122.50" y2="414.20" stroke="#999" stroke-width="0.6"/>
<text x="35.90" y="340.70" font-size="8.7" fill="#111" textLength="26.9" lengthAdjust="spacingAndGlyphs">-4-OHT</text>
<text x="81.40" y="338.00" font-size="8.6" fill="#111" textLength="35.3" lengthAdjust="spacingAndGlyphs">G0/1:66%</text>
<text x="81.40" y="346.00" font-size="8.6" fill="#111" textLength="45.9" lengthAdjust="spacingAndGlyphs">S/G2/M:32%</text>
<polyline points="33.10,412.30 37.00,411.90 42.00,411.30 50.00,411.90 60.00,412.20 64.50,412.10 66.00,409.70 68.50,402.70 70.80,372.70 71.90,333.20 73.20,372.70 75.20,400.70 77.10,402.50 80.00,403.70 83.40,404.90 94.00,405.50 104.60,405.90 108.80,405.10 114.00,407.70 119.40,410.90 121.50,412.40" fill="none" stroke="#8c8c8c" stroke-width="0.8" stroke-linejoin="round"/>
<polygon points="65.70,412.70 66.30,408.80 67.30,402.30 68.10,394.30 68.90,378.20 69.40,362.20 70.20,346.10 71.10,338.70 71.70,333.40 72.30,338.70 73.00,346.10 73.80,362.20 74.60,378.20 75.70,394.30 76.90,402.30 78.30,408.80 77.70,412.70" fill="#5b5b5b"/>
<clipPath id="h393"><polygon points="70.50,412.70 74.60,406.20 75.80,404.20 77.10,403.30 79.00,404.70 83.40,406.10 94.00,406.70 104.60,407.10 108.80,406.70 114.00,408.90 119.40,411.50 121.50,412.70"/></clipPath>
<polygon points="70.50,412.70 74.60,406.20 75.80,404.20 77.10,403.30 79.00,404.70 83.40,406.10 94.00,406.70 104.60,407.10 108.80,406.70 114.00,408.90 119.40,411.50 121.50,412.70" fill="#fff" stroke="#888" stroke-width="0.5"/>
<g clip-path="url(#h393)"><line x1="-10.10" y1="382.70" x2="19.90" y2="412.70" stroke="#444" stroke-width="0.8"/><line x1="-4.70" y1="382.70" x2="25.30" y2="412.70" stroke="#444" stroke-width="0.8"/><line x1="0.70" y1="382.70" x2="30.70" y2="412.70" stroke="#444" stroke-width="0.8"/><line x1="6.10" y1="382.70" x2="36.10" y2="412.70" stroke="#444" stroke-width="0.8"/><line x1="11.50" y1="382.70" x2="41.50" y2="412.70" stroke="#444" stroke-width="0.8"/><line x1="16.90" y1="382.70" x2="46.90" y2="412.70" stroke="#444" stroke-width="0.8"/><line x1="22.30" y1="382.70" x2="52.30" y2="412.70" stroke="#444" stroke-width="0.8"/><line x1="27.70" y1="382.70" x2="57.70" y2="412.70" stroke="#444" stroke-width="0.8"/><line x1="33.10" y1="382.70" x2="63.10" y2="412.70" stroke="#444" stroke-width="0.8"/><line x1="38.50" y1="382.70" x2="68.50" y2="412.70" stroke="#444" stroke-width="0.8"/><line x1="43.90" y1="382.70" x2="73.90" y2="412.70" stroke="#444" stroke-width="0.8"/><line x1="49.30" y1="382.70" x2="79.30" y2="412.70" stroke="#444" stroke-width="0.8"/><line x1="54.70" y1="382.70" x2="84.70" y2="412.70" stroke="#444" stroke-width="0.8"/><line x1="60.10" y1="382.70" x2="90.10" y2="412.70" stroke="#444" stroke-width="0.8"/><line x1="65.50" y1="382.70" x2="95.50" y2="412.70" stroke="#444" stroke-width="0.8"/><line x1="70.90" y1="382.70" x2="100.90" y2="412.70" stroke="#444" stroke-width="0.8"/><line x1="76.30" y1="382.70" x2="106.30" y2="412.70" stroke="#444" stroke-width="0.8"/><line x1="81.70" y1="382.70" x2="111.70" y2="412.70" stroke="#444" stroke-width="0.8"/><line x1="87.10" y1="382.70" x2="117.10" y2="412.70" stroke="#444" stroke-width="0.8"/><line x1="92.50" y1="382.70" x2="122.50" y2="412.70" stroke="#444" stroke-width="0.8"/><line x1="97.90" y1="382.70" x2="127.90" y2="412.70" stroke="#444" stroke-width="0.8"/><line x1="103.30" y1="382.70" x2="133.30" y2="412.70" stroke="#444" stroke-width="0.8"/><line x1="108.70" y1="382.70" x2="138.70" y2="412.70" stroke="#444" stroke-width="0.8"/><line x1="114.10" y1="382.70" x2="144.10" y2="412.70" stroke="#444" stroke-width="0.8"/><line x1="119.50" y1="382.70" x2="149.50" y2="412.70" stroke="#444" stroke-width="0.8"/><line x1="124.90" y1="382.70" x2="154.90" y2="412.70" stroke="#444" stroke-width="0.8"/><line x1="130.30" y1="382.70" x2="160.30" y2="412.70" stroke="#444" stroke-width="0.8"/><line x1="135.70" y1="382.70" x2="165.70" y2="412.70" stroke="#444" stroke-width="0.8"/><line x1="141.10" y1="382.70" x2="171.10" y2="412.70" stroke="#444" stroke-width="0.8"/><line x1="146.50" y1="382.70" x2="176.50" y2="412.70" stroke="#444" stroke-width="0.8"/><line x1="151.90" y1="382.70" x2="181.90" y2="412.70" stroke="#444" stroke-width="0.8"/><line x1="157.30" y1="382.70" x2="187.30" y2="412.70" stroke="#444" stroke-width="0.8"/><line x1="162.70" y1="382.70" x2="192.70" y2="412.70" stroke="#444" stroke-width="0.8"/><line x1="168.10" y1="382.70" x2="198.10" y2="412.70" stroke="#444" stroke-width="0.8"/><line x1="173.50" y1="382.70" x2="203.50" y2="412.70" stroke="#444" stroke-width="0.8"/><line x1="178.90" y1="382.70" x2="208.90" y2="412.70" stroke="#444" stroke-width="0.8"/><line x1="184.30" y1="382.70" x2="214.30" y2="412.70" stroke="#444" stroke-width="0.8"/><line x1="189.70" y1="382.70" x2="219.70" y2="412.70" stroke="#444" stroke-width="0.8"/></g>
<polyline points="75.20,400.39 77.10,401.77 78.55,403.48 80.00,403.59 81.70,403.80 83.40,405.39 84.73,404.92 86.05,405.48 87.38,405.55 88.70,404.88 90.03,405.58 91.35,404.46 92.67,405.61 94.00,405.05 95.33,405.82 96.65,406.03 97.97,405.65 99.30,406.35 100.62,405.12 101.95,406.02 103.27,405.13 104.60,405.85 106.00,405.96 107.40,405.27 108.80,405.79 110.10,405.17 111.40,406.55 112.70,406.47 114.00,407.43 115.35,408.64 116.70,409.06 118.05,410.99 119.40,410.63 121.50,412.40" fill="none" stroke="#8c8c8c" stroke-width="0.8" stroke-linejoin="round"/>
<rect x="29.50" y="394.98" width="1.5" height="2.8" fill="#999"/>
<rect x="29.50" y="378.65" width="1.5" height="2.8" fill="#999"/>
<rect x="29.50" y="362.32" width="1.5" height="2.8" fill="#999"/>
<rect x="29.50" y="346.00" width="1.5" height="2.8" fill="#999"/>
<rect x="26.50" y="368.55" width="1.2" height="8.5" fill="#aaa"/>
<rect x="32.50" y="415.70" width="1.20" height="1.8" fill="#bbb"/>
<rect x="49.98" y="415.70" width="2.00" height="1.8" fill="#bbb"/>
<rect x="67.36" y="415.70" width="3.00" height="1.8" fill="#bbb"/>
<rect x="85.24" y="415.70" width="3.00" height="1.8" fill="#bbb"/>
<rect x="103.12" y="415.70" width="3.00" height="1.8" fill="#bbb"/>
<rect x="121.00" y="415.70" width="3.00" height="1.8" fill="#bbb"/>
<line x1="151.80" y1="331.80" x2="151.80" y2="412.90" stroke="#8a8a8a" stroke-width="0.8"/>
<line x1="150.70" y1="412.90" x2="151.80" y2="412.90" stroke="#777" stroke-width="0.6"/>
<line x1="150.70" y1="409.52" x2="151.80" y2="409.52" stroke="#777" stroke-width="0.6"/>
<line x1="150.70" y1="406.14" x2="151.80" y2="406.14" stroke="#777" stroke-width="0.6"/>
<line x1="150.70" y1="402.76" x2="151.80" y2="402.76" stroke="#777" stroke-width="0.6"/>
<line x1="150.70" y1="399.38" x2="151.80" y2="399.38" stroke="#777" stroke-width="0.6"/>
<line x1="150.70" y1="396.00" x2="151.80" y2="396.00" stroke="#777" stroke-width="0.6"/>
<line x1="150.70" y1="392.62" x2="151.80" y2="392.62" stroke="#777" stroke-width="0.6"/>
<line x1="150.70" y1="389.25" x2="151.80" y2="389.25" stroke="#777" stroke-width="0.6"/>
<line x1="150.70" y1="385.87" x2="151.80" y2="385.87" stroke="#777" stroke-width="0.6"/>
<line x1="150.70" y1="382.49" x2="151.80" y2="382.49" stroke="#777" stroke-width="0.6"/>
<line x1="150.70" y1="379.11" x2="151.80" y2="379.11" stroke="#777" stroke-width="0.6"/>
<line x1="150.70" y1="375.73" x2="151.80" y2="375.73" stroke="#777" stroke-width="0.6"/>
<line x1="150.70" y1="372.35" x2="151.80" y2="372.35" stroke="#777" stroke-width="0.6"/>
<line x1="150.70" y1="368.97" x2="151.80" y2="368.97" stroke="#777" stroke-width="0.6"/>
<line x1="150.70" y1="365.59" x2="151.80" y2="365.59" stroke="#777" stroke-width="0.6"/>
<line x1="150.70" y1="362.21" x2="151.80" y2="362.21" stroke="#777" stroke-width="0.6"/>
<line x1="150.70" y1="358.83" x2="151.80" y2="358.83" stroke="#777" stroke-width="0.6"/>
<line x1="150.70" y1="355.45" x2="151.80" y2="355.45" stroke="#777" stroke-width="0.6"/>
<line x1="150.70" y1="352.07" x2="151.80" y2="352.07" stroke="#777" stroke-width="0.6"/>
<line x1="150.70" y1="348.70" x2="151.80" y2="348.70" stroke="#777" stroke-width="0.6"/>
<line x1="150.70" y1="345.32" x2="151.80" y2="345.32" stroke="#777" stroke-width="0.6"/>
<line x1="150.70" y1="341.94" x2="151.80" y2="341.94" stroke="#777" stroke-width="0.6"/>
<line x1="150.70" y1="338.56" x2="151.80" y2="338.56" stroke="#777" stroke-width="0.6"/>
<line x1="150.70" y1="335.18" x2="151.80" y2="335.18" stroke="#777" stroke-width="0.6"/>
<line x1="150.70" y1="331.80" x2="151.80" y2="331.80" stroke="#777" stroke-width="0.6"/>
<line x1="150.20" y1="412.90" x2="151.80" y2="412.90" stroke="#777" stroke-width="0.7"/>
<line x1="150.20" y1="396.38" x2="151.80" y2="396.38" stroke="#777" stroke-width="0.7"/>
<line x1="150.20" y1="379.85" x2="151.80" y2="379.85" stroke="#777" stroke-width="0.7"/>
<line x1="150.20" y1="363.32" x2="151.80" y2="363.32" stroke="#777" stroke-width="0.7"/>
<line x1="150.20" y1="346.80" x2="151.80" y2="346.80" stroke="#777" stroke-width="0.7"/>
<line x1="151.80" y1="412.90" x2="245.00" y2="412.90" stroke="#8a8a8a" stroke-width="0.9"/>
<line x1="151.80" y1="412.90" x2="151.80" y2="414.40" stroke="#999" stroke-width="0.6"/>
<line x1="170.44" y1="412.90" x2="170.44" y2="414.40" stroke="#999" stroke-width="0.6"/>
<line x1="189.08" y1="412.90" x2="189.08" y2="414.40" stroke="#999" stroke-width="0.6"/>
<line x1="207.72" y1="412.90" x2="207.72" y2="414.40" stroke="#999" stroke-width="0.6"/>
<line x1="226.36" y1="412.90" x2="226.36" y2="414.40" stroke="#999" stroke-width="0.6"/>
<line x1="245.00" y1="412.90" x2="245.00" y2="414.40" stroke="#999" stroke-width="0.6"/>
<text x="155.90" y="340.70" font-size="8.7" fill="#111" textLength="26.9" lengthAdjust="spacingAndGlyphs">-4-OHT</text>
<text x="206.00" y="338.00" font-size="8.6" fill="#111" textLength="35.3" lengthAdjust="spacingAndGlyphs">G0/1:35%</text>
<text x="206.00" y="346.20" font-size="8.6" fill="#111" textLength="45.5" lengthAdjust="spacingAndGlyphs">S/G2/M:60%</text>
<polyline points="151.80,412.50 160.00,412.00 170.00,412.30 184.00,412.40 186.00,409.90 188.50,394.90 190.70,357.90 191.60,334.70 192.70,357.90 194.30,385.90 196.00,391.90 197.90,390.00 199.50,392.40 202.00,391.10 204.00,391.90 205.90,389.50 207.50,391.90 212.00,391.40 218.00,392.10 222.00,391.40 225.50,390.90 227.60,387.40 229.50,391.40 231.30,393.80 233.50,400.90 235.50,407.50 239.70,411.20 242.90,411.70 244.50,412.50" fill="none" stroke="#8c8c8c" stroke-width="0.8" stroke-linejoin="round"/>
<polygon points="185.50,412.90 186.30,409.30 187.90,402.30 188.70,391.10 189.20,378.20 189.90,362.20 190.40,346.10 191.40,337.90 192.00,334.00 192.60,337.90 193.60,346.10 194.70,362.20 195.50,378.20 196.80,391.10 196.60,402.90 196.00,412.90" fill="#9a9a9a"/>
<polygon points="185.50,412.90 186.30,409.30 187.90,402.30 188.70,391.10 189.20,378.20 189.90,362.20 190.40,346.10 191.40,337.90 192.00,334.00 191.70,337.90 191.40,346.10 192.60,362.20 193.60,378.20 194.60,391.10 195.20,402.90 195.00,412.90" fill="#585858"/>
<clipPath id="h452"><polygon points="188.50,412.90 196.60,393.30 230.20,393.20 233.40,400.90 236.60,410.70 238.50,412.90"/></clipPath>
<polygon points="188.50,412.90 196.60,393.30 230.20,393.20 233.40,400.90 236.60,410.70 238.50,412.90" fill="#fff" stroke="#888" stroke-width="0.5"/>
<g clip-path="url(#h452)"><line x1="108.60" y1="382.90" x2="138.60" y2="412.90" stroke="#444" stroke-width="0.8"/><line x1="114.00" y1="382.90" x2="144.00" y2="412.90" stroke="#444" stroke-width="0.8"/><line x1="119.40" y1="382.90" x2="149.40" y2="412.90" stroke="#444" stroke-width="0.8"/><line x1="124.80" y1="382.90" x2="154.80" y2="412.90" stroke="#444" stroke-width="0.8"/><line x1="130.20" y1="382.90" x2="160.20" y2="412.90" stroke="#444" stroke-width="0.8"/><line x1="135.60" y1="382.90" x2="165.60" y2="412.90" stroke="#444" stroke-width="0.8"/><line x1="141.00" y1="382.90" x2="171.00" y2="412.90" stroke="#444" stroke-width="0.8"/><line x1="146.40" y1="382.90" x2="176.40" y2="412.90" stroke="#444" stroke-width="0.8"/><line x1="151.80" y1="382.90" x2="181.80" y2="412.90" stroke="#444" stroke-width="0.8"/><line x1="157.20" y1="382.90" x2="187.20" y2="412.90" stroke="#444" stroke-width="0.8"/><line x1="162.60" y1="382.90" x2="192.60" y2="412.90" stroke="#444" stroke-width="0.8"/><line x1="168.00" y1="382.90" x2="198.00" y2="412.90" stroke="#444" stroke-width="0.8"/><line x1="173.40" y1="382.90" x2="203.40" y2="412.90" stroke="#444" stroke-width="0.8"/><line x1="178.80" y1="382.90" x2="208.80" y2="412.90" stroke="#444" stroke-width="0.8"/><line x1="184.20" y1="382.90" x2="214.20" y2="412.90" stroke="#444" stroke-width="0.8"/><line x1="189.60" y1="382.90" x2="219.60" y2="412.90" stroke="#444" stroke-width="0.8"/><line x1="195.00" y1="382.90" x2="225.00" y2="412.90" stroke="#444" stroke-width="0.8"/><line x1="200.40" y1="382.90" x2="230.40" y2="412.90" stroke="#444" stroke-width="0.8"/><line x1="205.80" y1="382.90" x2="235.80" y2="412.90" stroke="#444" stroke-width="0.8"/><line x1="211.20" y1="382.90" x2="241.20" y2="412.90" stroke="#444" stroke-width="0.8"/><line x1="216.60" y1="382.90" x2="246.60" y2="412.90" stroke="#444" stroke-width="0.8"/><line x1="222.00" y1="382.90" x2="252.00" y2="412.90" stroke="#444" stroke-width="0.8"/><line x1="227.40" y1="382.90" x2="257.40" y2="412.90" stroke="#444" stroke-width="0.8"/><line x1="232.80" y1="382.90" x2="262.80" y2="412.90" stroke="#444" stroke-width="0.8"/><line x1="238.20" y1="382.90" x2="268.20" y2="412.90" stroke="#444" stroke-width="0.8"/><line x1="243.60" y1="382.90" x2="273.60" y2="412.90" stroke="#444" stroke-width="0.8"/><line x1="249.00" y1="382.90" x2="279.00" y2="412.90" stroke="#444" stroke-width="0.8"/><line x1="254.40" y1="382.90" x2="284.40" y2="412.90" stroke="#444" stroke-width="0.8"/><line x1="259.80" y1="382.90" x2="289.80" y2="412.90" stroke="#444" stroke-width="0.8"/><line x1="265.20" y1="382.90" x2="295.20" y2="412.90" stroke="#444" stroke-width="0.8"/><line x1="270.60" y1="382.90" x2="300.60" y2="412.90" stroke="#444" stroke-width="0.8"/><line x1="276.00" y1="382.90" x2="306.00" y2="412.90" stroke="#444" stroke-width="0.8"/><line x1="281.40" y1="382.90" x2="311.40" y2="412.90" stroke="#444" stroke-width="0.8"/><line x1="286.80" y1="382.90" x2="316.80" y2="412.90" stroke="#444" stroke-width="0.8"/><line x1="292.20" y1="382.90" x2="322.20" y2="412.90" stroke="#444" stroke-width="0.8"/><line x1="297.60" y1="382.90" x2="327.60" y2="412.90" stroke="#444" stroke-width="0.8"/><line x1="303.00" y1="382.90" x2="333.00" y2="412.90" stroke="#444" stroke-width="0.8"/><line x1="308.40" y1="382.90" x2="338.40" y2="412.90" stroke="#444" stroke-width="0.8"/></g>
<polyline points="196.00,391.33 197.90,389.67 199.50,392.82 202.00,391.73 204.00,392.02 205.90,389.72 207.50,391.10 209.00,392.15 210.50,391.76 212.00,391.11 213.50,391.77 215.00,391.43 216.50,392.15 218.00,392.49 219.33,391.01 220.67,391.79 222.00,390.90 223.75,390.92 225.50,390.97 227.60,387.64 229.50,392.13 231.30,393.11 233.50,400.19 235.50,407.31 236.90,409.28 238.30,409.34 239.70,410.91 241.30,412.30 242.90,411.21 244.50,412.50" fill="none" stroke="#8c8c8c" stroke-width="0.8" stroke-linejoin="round"/>
<rect x="148.20" y="394.98" width="1.5" height="2.8" fill="#999"/>
<rect x="148.20" y="378.45" width="1.5" height="2.8" fill="#999"/>
<rect x="148.20" y="361.93" width="1.5" height="2.8" fill="#999"/>
<rect x="148.20" y="345.40" width="1.5" height="2.8" fill="#999"/>
<rect x="145.20" y="368.35" width="1.2" height="8.5" fill="#aaa"/>
<rect x="151.20" y="415.90" width="1.20" height="1.8" fill="#bbb"/>
<rect x="169.44" y="415.90" width="2.00" height="1.8" fill="#bbb"/>
<rect x="187.58" y="415.90" width="3.00" height="1.8" fill="#bbb"/>
<rect x="206.22" y="415.90" width="3.00" height="1.8" fill="#bbb"/>
<rect x="224.86" y="415.90" width="3.00" height="1.8" fill="#bbb"/>
<rect x="243.50" y="415.90" width="3.00" height="1.8" fill="#bbb"/>
<line x1="33.00" y1="441.90" x2="33.00" y2="523.20" stroke="#8a8a8a" stroke-width="0.8"/>
<line x1="31.90" y1="523.20" x2="33.00" y2="523.20" stroke="#777" stroke-width="0.6"/>
<line x1="31.90" y1="519.81" x2="33.00" y2="519.81" stroke="#777" stroke-width="0.6"/>
<line x1="31.90" y1="516.43" x2="33.00" y2="516.43" stroke="#777" stroke-width="0.6"/>
<line x1="31.90" y1="513.04" x2="33.00" y2="513.04" stroke="#777" stroke-width="0.6"/>
<line x1="31.90" y1="509.65" x2="33.00" y2="509.65" stroke="#777" stroke-width="0.6"/>
<line x1="31.90" y1="506.26" x2="33.00" y2="506.26" stroke="#777" stroke-width="0.6"/>
<line x1="31.90" y1="502.88" x2="33.00" y2="502.88" stroke="#777" stroke-width="0.6"/>
<line x1="31.90" y1="499.49" x2="33.00" y2="499.49" stroke="#777" stroke-width="0.6"/>
<line x1="31.90" y1="496.10" x2="33.00" y2="496.10" stroke="#777" stroke-width="0.6"/>
<line x1="31.90" y1="492.71" x2="33.00" y2="492.71" stroke="#777" stroke-width="0.6"/>
<line x1="31.90" y1="489.33" x2="33.00" y2="489.33" stroke="#777" stroke-width="0.6"/>
<line x1="31.90" y1="485.94" x2="33.00" y2="485.94" stroke="#777" stroke-width="0.6"/>
<line x1="31.90" y1="482.55" x2="33.00" y2="482.55" stroke="#777" stroke-width="0.6"/>
<line x1="31.90" y1="479.16" x2="33.00" y2="479.16" stroke="#777" stroke-width="0.6"/>
<line x1="31.90" y1="475.77" x2="33.00" y2="475.77" stroke="#777" stroke-width="0.6"/>
<line x1="31.90" y1="472.39" x2="33.00" y2="472.39" stroke="#777" stroke-width="0.6"/>
<line x1="31.90" y1="469.00" x2="33.00" y2="469.00" stroke="#777" stroke-width="0.6"/>
<line x1="31.90" y1="465.61" x2="33.00" y2="465.61" stroke="#777" stroke-width="0.6"/>
<line x1="31.90" y1="462.23" x2="33.00" y2="462.23" stroke="#777" stroke-width="0.6"/>
<line x1="31.90" y1="458.84" x2="33.00" y2="458.84" stroke="#777" stroke-width="0.6"/>
<line x1="31.90" y1="455.45" x2="33.00" y2="455.45" stroke="#777" stroke-width="0.6"/>
<line x1="31.90" y1="452.06" x2="33.00" y2="452.06" stroke="#777" stroke-width="0.6"/>
<line x1="31.90" y1="448.67" x2="33.00" y2="448.67" stroke="#777" stroke-width="0.6"/>
<line x1="31.90" y1="445.29" x2="33.00" y2="445.29" stroke="#777" stroke-width="0.6"/>
<line x1="31.90" y1="441.90" x2="33.00" y2="441.90" stroke="#777" stroke-width="0.6"/>
<line x1="31.40" y1="523.20" x2="33.00" y2="523.20" stroke="#777" stroke-width="0.7"/>
<line x1="31.40" y1="506.62" x2="33.00" y2="506.62" stroke="#777" stroke-width="0.7"/>
<line x1="31.40" y1="490.05" x2="33.00" y2="490.05" stroke="#777" stroke-width="0.7"/>
<line x1="31.40" y1="473.48" x2="33.00" y2="473.48" stroke="#777" stroke-width="0.7"/>
<line x1="31.40" y1="456.90" x2="33.00" y2="456.90" stroke="#777" stroke-width="0.7"/>
<line x1="33.00" y1="523.20" x2="123.00" y2="523.20" stroke="#8a8a8a" stroke-width="0.9"/>
<line x1="33.00" y1="523.20" x2="33.00" y2="524.70" stroke="#999" stroke-width="0.6"/>
<line x1="51.00" y1="523.20" x2="51.00" y2="524.70" stroke="#999" stroke-width="0.6"/>
<line x1="69.00" y1="523.20" x2="69.00" y2="524.70" stroke="#999" stroke-width="0.6"/>
<line x1="87.00" y1="523.20" x2="87.00" y2="524.70" stroke="#999" stroke-width="0.6"/>
<line x1="105.00" y1="523.20" x2="105.00" y2="524.70" stroke="#999" stroke-width="0.6"/>
<line x1="123.00" y1="523.20" x2="123.00" y2="524.70" stroke="#999" stroke-width="0.6"/>
<text x="36.30" y="451.10" font-size="8.7" fill="#111" textLength="27.5" lengthAdjust="spacingAndGlyphs"><tspan font-size="6.5" dy="-0.6">+</tspan><tspan dy="0.6">4-OHT</tspan></text>
<text x="81.40" y="451.10" font-size="8.6" fill="#111" textLength="35.3" lengthAdjust="spacingAndGlyphs">G0/1:63%</text>
<text x="81.40" y="460.20" font-size="8.6" fill="#111" textLength="45.9" lengthAdjust="spacingAndGlyphs">S/G2/M:35%</text>
<polyline points="33.00,522.80 40.00,522.40 50.00,522.20 60.00,522.70 67.00,522.60 68.80,520.20 70.50,505.20 72.70,452.50 74.80,505.20 76.00,516.20 78.00,516.30 80.00,515.80 83.00,516.80 86.00,517.60 100.00,517.80 106.00,517.30 110.80,516.10 114.00,517.80 118.00,520.40 122.00,522.90" fill="none" stroke="#8c8c8c" stroke-width="0.8" stroke-linejoin="round"/>
<polygon points="65.80,523.20 66.30,518.80 69.10,507.80 70.20,492.10 71.00,476.40 71.80,460.70 72.20,455.20 72.60,452.10 73.10,455.20 73.80,460.70 74.40,476.40 75.20,492.10 76.50,507.80 78.10,518.80 78.10,523.20" fill="#5b5b5b"/>
<clipPath id="h510"><polygon points="70.20,523.20 75.50,517.70 78.00,516.70 80.00,516.20 83.00,517.20 86.00,518.00 100.00,518.20 106.00,517.70 110.80,516.60 114.00,518.20 118.00,520.70 122.00,523.20"/></clipPath>
<polygon points="70.20,523.20 75.50,517.70 78.00,516.70 80.00,516.20 83.00,517.20 86.00,518.00 100.00,518.20 106.00,517.70 110.80,516.60 114.00,518.20 118.00,520.70 122.00,523.20" fill="#fff" stroke="#888" stroke-width="0.5"/>
<g clip-path="url(#h510)"><line x1="-10.20" y1="493.20" x2="19.80" y2="523.20" stroke="#444" stroke-width="0.8"/><line x1="-4.80" y1="493.20" x2="25.20" y2="523.20" stroke="#444" stroke-width="0.8"/><line x1="0.60" y1="493.20" x2="30.60" y2="523.20" stroke="#444" stroke-width="0.8"/><line x1="6.00" y1="493.20" x2="36.00" y2="523.20" stroke="#444" stroke-width="0.8"/><line x1="11.40" y1="493.20" x2="41.40" y2="523.20" stroke="#444" stroke-width="0.8"/><line x1="16.80" y1="493.20" x2="46.80" y2="523.20" stroke="#444" stroke-width="0.8"/><line x1="22.20" y1="493.20" x2="52.20" y2="523.20" stroke="#444" stroke-width="0.8"/><line x1="27.60" y1="493.20" x2="57.60" y2="523.20" stroke="#444" stroke-width="0.8"/><line x1="33.00" y1="493.20" x2="63.00" y2="523.20" stroke="#444" stroke-width="0.8"/><line x1="38.40" y1="493.20" x2="68.40" y2="523.20" stroke="#444" stroke-width="0.8"/><line x1="43.80" y1="493.20" x2="73.80" y2="523.20" stroke="#444" stroke-width="0.8"/><line x1="49.20" y1="493.20" x2="79.20" y2="523.20" stroke="#444" stroke-width="0.8"/><line x1="54.60" y1="493.20" x2="84.60" y2="523.20" stroke="#444" stroke-width="0.8"/><line x1="60.00" y1="493.20" x2="90.00" y2="523.20" stroke="#444" stroke-width="0.8"/><line x1="65.40" y1="493.20" x2="95.40" y2="523.20" stroke="#444" stroke-width="0.8"/><line x1="70.80" y1="493.20" x2="100.80" y2="523.20" stroke="#444" stroke-width="0.8"/><line x1="76.20" y1="493.20" x2="106.20" y2="523.20" stroke="#444" stroke-width="0.8"/><line x1="81.60" y1="493.20" x2="111.60" y2="523.20" stroke="#444" stroke-width="0.8"/><line x1="87.00" y1="493.20" x2="117.00" y2="523.20" stroke="#444" stroke-width="0.8"/><line x1="92.40" y1="493.20" x2="122.40" y2="523.20" stroke="#444" stroke-width="0.8"/><line x1="97.80" y1="493.20" x2="127.80" y2="523.20" stroke="#444" stroke-width="0.8"/><line x1="103.20" y1="493.20" x2="133.20" y2="523.20" stroke="#444" stroke-width="0.8"/><line x1="108.60" y1="493.20" x2="138.60" y2="523.20" stroke="#444" stroke-width="0.8"/><line x1="114.00" y1="493.20" x2="144.00" y2="523.20" stroke="#444" stroke-width="0.8"/><line x1="119.40" y1="493.20" x2="149.40" y2="523.20" stroke="#444" stroke-width="0.8"/><line x1="124.80" y1="493.20" x2="154.80" y2="523.20" stroke="#444" stroke-width="0.8"/><line x1="130.20" y1="493.20" x2="160.20" y2="523.20" stroke="#444" stroke-width="0.8"/><line x1="135.60" y1="493.20" x2="165.60" y2="523.20" stroke="#444" stroke-width="0.8"/><line x1="141.00" y1="493.20" x2="171.00" y2="523.20" stroke="#444" stroke-width="0.8"/><line x1="146.40" y1="493.20" x2="176.40" y2="523.20" stroke="#444" stroke-width="0.8"/><line x1="151.80" y1="493.20" x2="181.80" y2="523.20" stroke="#444" stroke-width="0.8"/><line x1="157.20" y1="493.20" x2="187.20" y2="523.20" stroke="#444" stroke-width="0.8"/><line x1="162.60" y1="493.20" x2="192.60" y2="523.20" stroke="#444" stroke-width="0.8"/><line x1="168.00" y1="493.20" x2="198.00" y2="523.20" stroke="#444" stroke-width="0.8"/><line x1="173.40" y1="493.20" x2="203.40" y2="523.20" stroke="#444" stroke-width="0.8"/><line x1="178.80" y1="493.20" x2="208.80" y2="523.20" stroke="#444" stroke-width="0.8"/><line x1="184.20" y1="493.20" x2="214.20" y2="523.20" stroke="#444" stroke-width="0.8"/><line x1="189.60" y1="493.20" x2="219.60" y2="523.20" stroke="#444" stroke-width="0.8"/></g>
<polyline points="76.00,516.31 78.00,516.46 80.00,515.69 81.50,516.42 83.00,516.97 84.50,516.55 86.00,518.09 87.40,518.05 88.80,517.04 90.20,517.86 91.60,517.10 93.00,518.04 94.40,518.28 95.80,517.33 97.20,518.02 98.60,517.07 100.00,517.92 101.50,518.39 103.00,516.91 104.50,517.40 106.00,517.62 107.60,516.52 109.20,516.40 110.80,516.70 112.40,516.49 114.00,517.53 115.33,518.75 116.67,519.27 118.00,521.26 119.33,521.01 120.67,522.23 122.00,522.90" fill="none" stroke="#8c8c8c" stroke-width="0.8" stroke-linejoin="round"/>
<rect x="29.40" y="505.23" width="1.5" height="2.8" fill="#999"/>
<rect x="29.40" y="488.65" width="1.5" height="2.8" fill="#999"/>
<rect x="29.40" y="472.08" width="1.5" height="2.8" fill="#999"/>
<rect x="29.40" y="455.50" width="1.5" height="2.8" fill="#999"/>
<rect x="26.40" y="478.55" width="1.2" height="8.5" fill="#aaa"/>
<rect x="32.40" y="526.20" width="1.20" height="1.8" fill="#bbb"/>
<rect x="50.00" y="526.20" width="2.00" height="1.8" fill="#bbb"/>
<rect x="67.50" y="526.20" width="3.00" height="1.8" fill="#bbb"/>
<rect x="85.50" y="526.20" width="3.00" height="1.8" fill="#bbb"/>
<rect x="103.50" y="526.20" width="3.00" height="1.8" fill="#bbb"/>
<rect x="121.50" y="526.20" width="3.00" height="1.8" fill="#bbb"/>
<line x1="152.40" y1="443.50" x2="152.40" y2="522.70" stroke="#8a8a8a" stroke-width="0.8"/>
<line x1="151.30" y1="522.70" x2="152.40" y2="522.70" stroke="#777" stroke-width="0.6"/>
<line x1="151.30" y1="519.40" x2="152.40" y2="519.40" stroke="#777" stroke-width="0.6"/>
<line x1="151.30" y1="516.10" x2="152.40" y2="516.10" stroke="#777" stroke-width="0.6"/>
<line x1="151.30" y1="512.80" x2="152.40" y2="512.80" stroke="#777" stroke-width="0.6"/>
<line x1="151.30" y1="509.50" x2="152.40" y2="509.50" stroke="#777" stroke-width="0.6"/>
<line x1="151.30" y1="506.20" x2="152.40" y2="506.20" stroke="#777" stroke-width="0.6"/>
<line x1="151.30" y1="502.90" x2="152.40" y2="502.90" stroke="#777" stroke-width="0.6"/>
<line x1="151.30" y1="499.60" x2="152.40" y2="499.60" stroke="#777" stroke-width="0.6"/>
<line x1="151.30" y1="496.30" x2="152.40" y2="496.30" stroke="#777" stroke-width="0.6"/>
<line x1="151.30" y1="493.00" x2="152.40" y2="493.00" stroke="#777" stroke-width="0.6"/>
<line x1="151.30" y1="489.70" x2="152.40" y2="489.70" stroke="#777" stroke-width="0.6"/>
<line x1="151.30" y1="486.40" x2="152.40" y2="486.40" stroke="#777" stroke-width="0.6"/>
<line x1="151.30" y1="483.10" x2="152.40" y2="483.10" stroke="#777" stroke-width="0.6"/>
<line x1="151.30" y1="479.80" x2="152.40" y2="479.80" stroke="#777" stroke-width="0.6"/>
<line x1="151.30" y1="476.50" x2="152.40" y2="476.50" stroke="#777" stroke-width="0.6"/>
<line x1="151.30" y1="473.20" x2="152.40" y2="473.20" stroke="#777" stroke-width="0.6"/>
<line x1="151.30" y1="469.90" x2="152.40" y2="469.90" stroke="#777" stroke-width="0.6"/>
<line x1="151.30" y1="466.60" x2="152.40" y2="466.60" stroke="#777" stroke-width="0.6"/>
<line x1="151.30" y1="463.30" x2="152.40" y2="463.30" stroke="#777" stroke-width="0.6"/>
<line x1="151.30" y1="460.00" x2="152.40" y2="460.00" stroke="#777" stroke-width="0.6"/>
<line x1="151.30" y1="456.70" x2="152.40" y2="456.70" stroke="#777" stroke-width="0.6"/>
<line x1="151.30" y1="453.40" x2="152.40" y2="453.40" stroke="#777" stroke-width="0.6"/>
<line x1="151.30" y1="450.10" x2="152.40" y2="450.10" stroke="#777" stroke-width="0.6"/>
<line x1="151.30" y1="446.80" x2="152.40" y2="446.80" stroke="#777" stroke-width="0.6"/>
<line x1="151.30" y1="443.50" x2="152.40" y2="443.50" stroke="#777" stroke-width="0.6"/>
<line x1="150.80" y1="522.70" x2="152.40" y2="522.70" stroke="#777" stroke-width="0.7"/>
<line x1="150.80" y1="506.65" x2="152.40" y2="506.65" stroke="#777" stroke-width="0.7"/>
<line x1="150.80" y1="490.60" x2="152.40" y2="490.60" stroke="#777" stroke-width="0.7"/>
<line x1="150.80" y1="474.55" x2="152.40" y2="474.55" stroke="#777" stroke-width="0.7"/>
<line x1="150.80" y1="458.50" x2="152.40" y2="458.50" stroke="#777" stroke-width="0.7"/>
<line x1="152.40" y1="522.70" x2="242.30" y2="522.70" stroke="#8a8a8a" stroke-width="0.9"/>
<line x1="152.40" y1="522.70" x2="152.40" y2="524.20" stroke="#999" stroke-width="0.6"/>
<line x1="170.38" y1="522.70" x2="170.38" y2="524.20" stroke="#999" stroke-width="0.6"/>
<line x1="188.36" y1="522.70" x2="188.36" y2="524.20" stroke="#999" stroke-width="0.6"/>
<line x1="206.34" y1="522.70" x2="206.34" y2="524.20" stroke="#999" stroke-width="0.6"/>
<line x1="224.32" y1="522.70" x2="224.32" y2="524.20" stroke="#999" stroke-width="0.6"/>
<line x1="242.30" y1="522.70" x2="242.30" y2="524.20" stroke="#999" stroke-width="0.6"/>
<text x="156.30" y="451.10" font-size="8.7" fill="#111" textLength="27.5" lengthAdjust="spacingAndGlyphs"><tspan font-size="6.5" dy="-0.6">+</tspan><tspan dy="0.6">4-OHT</tspan></text>
<text x="206.00" y="451.40" font-size="8.6" fill="#111" textLength="35.8" lengthAdjust="spacingAndGlyphs">G0/1:44%</text>
<text x="206.00" y="460.60" font-size="8.6" fill="#111" textLength="46.3" lengthAdjust="spacingAndGlyphs">S/G2/M:51%</text>
<polyline points="152.40,522.20 160.00,521.70 170.00,522.00 185.00,522.10 187.00,518.70 189.50,497.70 191.60,454.30 193.50,492.70 195.40,508.20 198.00,509.60 201.00,509.00 205.00,509.90 210.00,509.30 215.00,509.80 220.00,509.80 224.00,509.10 227.00,507.70 229.90,509.80 233.20,517.70 236.00,520.90 239.90,522.30" fill="none" stroke="#8c8c8c" stroke-width="0.8" stroke-linejoin="round"/>
<polygon points="185.10,522.70 185.50,522.00 187.80,511.00 188.60,500.00 189.70,484.20 190.20,468.50 190.90,457.70 191.30,453.60 191.80,457.70 192.90,468.50 193.80,484.20 194.90,500.00 196.30,511.00 195.30,522.70" fill="#9a9a9a"/>
<polygon points="185.10,522.70 185.50,522.00 187.80,511.00 188.60,500.00 189.70,484.20 190.20,468.50 190.90,457.70 191.30,453.60 191.10,457.70 191.50,468.50 192.50,484.20 193.50,500.00 194.70,511.00 194.30,522.70" fill="#585858"/>
<clipPath id="h569"><polygon points="188.00,522.70 195.50,510.50 229.90,510.50 233.20,518.10 236.00,521.30 238.00,522.70"/></clipPath>
<polygon points="188.00,522.70 195.50,510.50 229.90,510.50 233.20,518.10 236.00,521.30 238.00,522.70" fill="#fff" stroke="#888" stroke-width="0.5"/>
<g clip-path="url(#h569)"><line x1="109.20" y1="492.70" x2="139.20" y2="522.70" stroke="#444" stroke-width="0.8"/><line x1="114.60" y1="492.70" x2="144.60" y2="522.70" stroke="#444" stroke-width="0.8"/><line x1="120.00" y1="492.70" x2="150.00" y2="522.70" stroke="#444" stroke-width="0.8"/><line x1="125.40" y1="492.70" x2="155.40" y2="522.70" stroke="#444" stroke-width="0.8"/><line x1="130.80" y1="492.70" x2="160.80" y2="522.70" stroke="#444" stroke-width="0.8"/><line x1="136.20" y1="492.70" x2="166.20" y2="522.70" stroke="#444" stroke-width="0.8"/><line x1="141.60" y1="492.70" x2="171.60" y2="522.70" stroke="#444" stroke-width="0.8"/><line x1="147.00" y1="492.70" x2="177.00" y2="522.70" stroke="#444" stroke-width="0.8"/><line x1="152.40" y1="492.70" x2="182.40" y2="522.70" stroke="#444" stroke-width="0.8"/><line x1="157.80" y1="492.70" x2="187.80" y2="522.70" stroke="#444" stroke-width="0.8"/><line x1="163.20" y1="492.70" x2="193.20" y2="522.70" stroke="#444" stroke-width="0.8"/><line x1="168.60" y1="492.70" x2="198.60" y2="522.70" stroke="#444" stroke-width="0.8"/><line x1="174.00" y1="492.70" x2="204.00" y2="522.70" stroke="#444" stroke-width="0.8"/><line x1="179.40" y1="492.70" x2="209.40" y2="522.70" stroke="#444" stroke-width="0.8"/><line x1="184.80" y1="492.70" x2="214.80" y2="522.70" stroke="#444" stroke-width="0.8"/><line x1="190.20" y1="492.70" x2="220.20" y2="522.70" stroke="#444" stroke-width="0.8"/><line x1="195.60" y1="492.70" x2="225.60" y2="522.70" stroke="#444" stroke-width="0.8"/><line x1="201.00" y1="492.70" x2="231.00" y2="522.70" stroke="#444" stroke-width="0.8"/><line x1="206.40" y1="492.70" x2="236.40" y2="522.70" stroke="#444" stroke-width="0.8"/><line x1="211.80" y1="492.70" x2="241.80" y2="522.70" stroke="#444" stroke-width="0.8"/><line x1="217.20" y1="492.70" x2="247.20" y2="522.70" stroke="#444" stroke-width="0.8"/><line x1="222.60" y1="492.70" x2="252.60" y2="522.70" stroke="#444" stroke-width="0.8"/><line x1="228.00" y1="492.70" x2="258.00" y2="522.70" stroke="#444" stroke-width="0.8"/><line x1="233.40" y1="492.70" x2="263.40" y2="522.70" stroke="#444" stroke-width="0.8"/><line x1="238.80" y1="492.70" x2="268.80" y2="522.70" stroke="#444" stroke-width="0.8"/><line x1="244.20" y1="492.70" x2="274.20" y2="522.70" stroke="#444" stroke-width="0.8"/><line x1="249.60" y1="492.70" x2="279.60" y2="522.70" stroke="#444" stroke-width="0.8"/><line x1="255.00" y1="492.70" x2="285.00" y2="522.70" stroke="#444" stroke-width="0.8"/><line x1="260.40" y1="492.70" x2="290.40" y2="522.70" stroke="#444" stroke-width="0.8"/><line x1="265.80" y1="492.70" x2="295.80" y2="522.70" stroke="#444" stroke-width="0.8"/><line x1="271.20" y1="492.70" x2="301.20" y2="522.70" stroke="#444" stroke-width="0.8"/><line x1="276.60" y1="492.70" x2="306.60" y2="522.70" stroke="#444" stroke-width="0.8"/><line x1="282.00" y1="492.70" x2="312.00" y2="522.70" stroke="#444" stroke-width="0.8"/><line x1="287.40" y1="492.70" x2="317.40" y2="522.70" stroke="#444" stroke-width="0.8"/><line x1="292.80" y1="492.70" x2="322.80" y2="522.70" stroke="#444" stroke-width="0.8"/><line x1="298.20" y1="492.70" x2="328.20" y2="522.70" stroke="#444" stroke-width="0.8"/><line x1="303.60" y1="492.70" x2="333.60" y2="522.70" stroke="#444" stroke-width="0.8"/><line x1="309.00" y1="492.70" x2="339.00" y2="522.70" stroke="#444" stroke-width="0.8"/></g>
<polyline points="195.40,508.35 198.00,509.01 199.50,509.72 201.00,508.94 202.33,509.79 203.67,509.76 205.00,509.43 206.67,510.18 208.33,509.80 210.00,508.42 211.67,509.95 213.33,509.90 215.00,509.48 216.67,509.63 218.33,509.99 220.00,510.28 221.33,509.49 222.67,509.87 224.00,508.33 225.50,508.47 227.00,508.12 228.45,508.54 229.90,510.15 231.55,513.70 233.20,517.42 234.60,519.70 236.00,520.27 237.30,521.15 238.60,521.82 239.90,522.30" fill="none" stroke="#8c8c8c" stroke-width="0.8" stroke-linejoin="round"/>
<rect x="148.80" y="505.25" width="1.5" height="2.8" fill="#999"/>
<rect x="148.80" y="489.20" width="1.5" height="2.8" fill="#999"/>
<rect x="148.80" y="473.15" width="1.5" height="2.8" fill="#999"/>
<rect x="148.80" y="457.10" width="1.5" height="2.8" fill="#999"/>
<rect x="145.80" y="479.10" width="1.2" height="8.5" fill="#aaa"/>
<rect x="151.80" y="525.70" width="1.20" height="1.8" fill="#bbb"/>
<rect x="169.38" y="525.70" width="2.00" height="1.8" fill="#bbb"/>
<rect x="186.86" y="525.70" width="3.00" height="1.8" fill="#bbb"/>
<rect x="204.84" y="525.70" width="3.00" height="1.8" fill="#bbb"/>
<rect x="222.82" y="525.70" width="3.00" height="1.8" fill="#bbb"/>
<rect x="240.80" y="525.70" width="3.00" height="1.8" fill="#bbb"/>
<line x1="351.60" y1="332.60" x2="351.60" y2="412.80" stroke="#8a8a8a" stroke-width="0.8"/>
<line x1="350.50" y1="412.80" x2="351.60" y2="412.80" stroke="#777" stroke-width="0.6"/>
<line x1="350.50" y1="409.46" x2="351.60" y2="409.46" stroke="#777" stroke-width="0.6"/>
<line x1="350.50" y1="406.12" x2="351.60" y2="406.12" stroke="#777" stroke-width="0.6"/>
<line x1="350.50" y1="402.78" x2="351.60" y2="402.78" stroke="#777" stroke-width="0.6"/>
<line x1="350.50" y1="399.43" x2="351.60" y2="399.43" stroke="#777" stroke-width="0.6"/>
<line x1="350.50" y1="396.09" x2="351.60" y2="396.09" stroke="#777" stroke-width="0.6"/>
<line x1="350.50" y1="392.75" x2="351.60" y2="392.75" stroke="#777" stroke-width="0.6"/>
<line x1="350.50" y1="389.41" x2="351.60" y2="389.41" stroke="#777" stroke-width="0.6"/>
<line x1="350.50" y1="386.07" x2="351.60" y2="386.07" stroke="#777" stroke-width="0.6"/>
<line x1="350.50" y1="382.73" x2="351.60" y2="382.73" stroke="#777" stroke-width="0.6"/>
<line x1="350.50" y1="379.38" x2="351.60" y2="379.38" stroke="#777" stroke-width="0.6"/>
<line x1="350.50" y1="376.04" x2="351.60" y2="376.04" stroke="#777" stroke-width="0.6"/>
<line x1="350.50" y1="372.70" x2="351.60" y2="372.70" stroke="#777" stroke-width="0.6"/>
<line x1="350.50" y1="369.36" x2="351.60" y2="369.36" stroke="#777" stroke-width="0.6"/>
<line x1="350.50" y1="366.02" x2="351.60" y2="366.02" stroke="#777" stroke-width="0.6"/>
<line x1="350.50" y1="362.68" x2="351.60" y2="362.68" stroke="#777" stroke-width="0.6"/>
<line x1="350.50" y1="359.33" x2="351.60" y2="359.33" stroke="#777" stroke-width="0.6"/>
<line x1="350.50" y1="355.99" x2="351.60" y2="355.99" stroke="#777" stroke-width="0.6"/>
<line x1="350.50" y1="352.65" x2="351.60" y2="352.65" stroke="#777" stroke-width="0.6"/>
<line x1="350.50" y1="349.31" x2="351.60" y2="349.31" stroke="#777" stroke-width="0.6"/>
<line x1="350.50" y1="345.97" x2="351.60" y2="345.97" stroke="#777" stroke-width="0.6"/>
<line x1="350.50" y1="342.62" x2="351.60" y2="342.62" stroke="#777" stroke-width="0.6"/>
<line x1="350.50" y1="339.28" x2="351.60" y2="339.28" stroke="#777" stroke-width="0.6"/>
<line x1="350.50" y1="335.94" x2="351.60" y2="335.94" stroke="#777" stroke-width="0.6"/>
<line x1="350.50" y1="332.60" x2="351.60" y2="332.60" stroke="#777" stroke-width="0.6"/>
<line x1="350.00" y1="412.80" x2="351.60" y2="412.80" stroke="#777" stroke-width="0.7"/>
<line x1="350.00" y1="396.50" x2="351.60" y2="396.50" stroke="#777" stroke-width="0.7"/>
<line x1="350.00" y1="380.20" x2="351.60" y2="380.20" stroke="#777" stroke-width="0.7"/>
<line x1="350.00" y1="363.90" x2="351.60" y2="363.90" stroke="#777" stroke-width="0.7"/>
<line x1="350.00" y1="347.60" x2="351.60" y2="347.60" stroke="#777" stroke-width="0.7"/>
<line x1="351.60" y1="412.80" x2="442.80" y2="412.80" stroke="#8a8a8a" stroke-width="0.9"/>
<line x1="351.60" y1="412.80" x2="351.60" y2="414.30" stroke="#999" stroke-width="0.6"/>
<line x1="369.84" y1="412.80" x2="369.84" y2="414.30" stroke="#999" stroke-width="0.6"/>
<line x1="388.08" y1="412.80" x2="388.08" y2="414.30" stroke="#999" stroke-width="0.6"/>
<line x1="406.32" y1="412.80" x2="406.32" y2="414.30" stroke="#999" stroke-width="0.6"/>
<line x1="424.56" y1="412.80" x2="424.56" y2="414.30" stroke="#999" stroke-width="0.6"/>
<line x1="442.80" y1="412.80" x2="442.80" y2="414.30" stroke="#999" stroke-width="0.6"/>
<text x="354.20" y="341.10" font-size="8.7" fill="#111" textLength="26.9" lengthAdjust="spacingAndGlyphs">-4-OHT</text>
<text x="409.80" y="338.60" font-size="8.6" fill="#111" textLength="35.9" lengthAdjust="spacingAndGlyphs">G0/1:70%</text>
<text x="409.80" y="346.60" font-size="8.6" fill="#111" textLength="45.8" lengthAdjust="spacingAndGlyphs">S/G2/M:30%</text>
<polyline points="351.60,412.50 360.00,412.10 370.00,411.60 376.00,412.20 378.50,408.80 380.40,382.80 381.60,332.80 382.80,382.80 384.60,406.80 385.90,405.40 388.00,406.40 392.00,408.40 396.00,409.90 400.00,410.20 404.60,408.20 407.00,410.40 410.00,412.10 416.00,412.50" fill="none" stroke="#8c8c8c" stroke-width="0.8" stroke-linejoin="round"/>
<polygon points="376.80,412.80 377.40,408.60 378.30,402.00 379.10,385.60 379.60,369.10 380.20,352.70 380.80,339.80 381.20,335.00 381.60,339.80 382.20,352.70 382.70,369.10 383.40,385.60 384.40,402.00 385.40,408.60 385.60,412.80" fill="#5b5b5b"/>
<clipPath id="h627"><polygon points="381.00,412.80 384.50,407.30 385.90,405.80 388.00,406.80 392.00,408.80 396.00,410.30 400.00,410.60 404.60,408.60 407.00,410.80 409.00,412.80"/></clipPath>
<polygon points="381.00,412.80 384.50,407.30 385.90,405.80 388.00,406.80 392.00,408.80 396.00,410.30 400.00,410.60 404.60,408.60 407.00,410.80 409.00,412.80" fill="#fff" stroke="#888" stroke-width="0.5"/>
<g clip-path="url(#h627)"><line x1="308.40" y1="382.80" x2="338.40" y2="412.80" stroke="#444" stroke-width="0.8"/><line x1="313.80" y1="382.80" x2="343.80" y2="412.80" stroke="#444" stroke-width="0.8"/><line x1="319.20" y1="382.80" x2="349.20" y2="412.80" stroke="#444" stroke-width="0.8"/><line x1="324.60" y1="382.80" x2="354.60" y2="412.80" stroke="#444" stroke-width="0.8"/><line x1="330.00" y1="382.80" x2="360.00" y2="412.80" stroke="#444" stroke-width="0.8"/><line x1="335.40" y1="382.80" x2="365.40" y2="412.80" stroke="#444" stroke-width="0.8"/><line x1="340.80" y1="382.80" x2="370.80" y2="412.80" stroke="#444" stroke-width="0.8"/><line x1="346.20" y1="382.80" x2="376.20" y2="412.80" stroke="#444" stroke-width="0.8"/><line x1="351.60" y1="382.80" x2="381.60" y2="412.80" stroke="#444" stroke-width="0.8"/><line x1="357.00" y1="382.80" x2="387.00" y2="412.80" stroke="#444" stroke-width="0.8"/><line x1="362.40" y1="382.80" x2="392.40" y2="412.80" stroke="#444" stroke-width="0.8"/><line x1="367.80" y1="382.80" x2="397.80" y2="412.80" stroke="#444" stroke-width="0.8"/><line x1="373.20" y1="382.80" x2="403.20" y2="412.80" stroke="#444" stroke-width="0.8"/><line x1="378.60" y1="382.80" x2="408.60" y2="412.80" stroke="#444" stroke-width="0.8"/><line x1="384.00" y1="382.80" x2="414.00" y2="412.80" stroke="#444" stroke-width="0.8"/><line x1="389.40" y1="382.80" x2="419.40" y2="412.80" stroke="#444" stroke-width="0.8"/><line x1="394.80" y1="382.80" x2="424.80" y2="412.80" stroke="#444" stroke-width="0.8"/><line x1="400.20" y1="382.80" x2="430.20" y2="412.80" stroke="#444" stroke-width="0.8"/><line x1="405.60" y1="382.80" x2="435.60" y2="412.80" stroke="#444" stroke-width="0.8"/><line x1="411.00" y1="382.80" x2="441.00" y2="412.80" stroke="#444" stroke-width="0.8"/><line x1="416.40" y1="382.80" x2="446.40" y2="412.80" stroke="#444" stroke-width="0.8"/><line x1="421.80" y1="382.80" x2="451.80" y2="412.80" stroke="#444" stroke-width="0.8"/><line x1="427.20" y1="382.80" x2="457.20" y2="412.80" stroke="#444" stroke-width="0.8"/><line x1="432.60" y1="382.80" x2="462.60" y2="412.80" stroke="#444" stroke-width="0.8"/><line x1="438.00" y1="382.80" x2="468.00" y2="412.80" stroke="#444" stroke-width="0.8"/><line x1="443.40" y1="382.80" x2="473.40" y2="412.80" stroke="#444" stroke-width="0.8"/><line x1="448.80" y1="382.80" x2="478.80" y2="412.80" stroke="#444" stroke-width="0.8"/><line x1="454.20" y1="382.80" x2="484.20" y2="412.80" stroke="#444" stroke-width="0.8"/><line x1="459.60" y1="382.80" x2="489.60" y2="412.80" stroke="#444" stroke-width="0.8"/><line x1="465.00" y1="382.80" x2="495.00" y2="412.80" stroke="#444" stroke-width="0.8"/><line x1="470.40" y1="382.80" x2="500.40" y2="412.80" stroke="#444" stroke-width="0.8"/><line x1="475.80" y1="382.80" x2="505.80" y2="412.80" stroke="#444" stroke-width="0.8"/><line x1="481.20" y1="382.80" x2="511.20" y2="412.80" stroke="#444" stroke-width="0.8"/><line x1="486.60" y1="382.80" x2="516.60" y2="412.80" stroke="#444" stroke-width="0.8"/><line x1="492.00" y1="382.80" x2="522.00" y2="412.80" stroke="#444" stroke-width="0.8"/><line x1="497.40" y1="382.80" x2="527.40" y2="412.80" stroke="#444" stroke-width="0.8"/><line x1="502.80" y1="382.80" x2="532.80" y2="412.80" stroke="#444" stroke-width="0.8"/><line x1="508.20" y1="382.80" x2="538.20" y2="412.80" stroke="#444" stroke-width="0.8"/></g>
<polyline points="384.60,406.42 385.90,406.20 388.00,406.83 389.33,406.70 390.67,408.45 392.00,408.55 393.33,408.94 394.67,409.56 396.00,409.09 397.33,410.23 398.67,409.47 400.00,410.70 401.53,409.96 403.07,408.05 404.60,408.50 407.00,410.68 408.50,411.74 410.00,411.95 411.50,412.24 413.00,412.29 414.50,412.39 416.00,412.50" fill="none" stroke="#8c8c8c" stroke-width="0.8" stroke-linejoin="round"/>
<rect x="348.00" y="395.10" width="1.5" height="2.8" fill="#999"/>
<rect x="348.00" y="378.80" width="1.5" height="2.8" fill="#999"/>
<rect x="348.00" y="362.50" width="1.5" height="2.8" fill="#999"/>
<rect x="348.00" y="346.20" width="1.5" height="2.8" fill="#999"/>
<rect x="345.00" y="368.70" width="1.2" height="8.5" fill="#aaa"/>
<rect x="351.00" y="415.80" width="1.20" height="1.8" fill="#bbb"/>
<rect x="368.84" y="415.80" width="2.00" height="1.8" fill="#bbb"/>
<rect x="386.58" y="415.80" width="3.00" height="1.8" fill="#bbb"/>
<rect x="404.82" y="415.80" width="3.00" height="1.8" fill="#bbb"/>
<rect x="423.06" y="415.80" width="3.00" height="1.8" fill="#bbb"/>
<rect x="441.30" y="415.80" width="3.00" height="1.8" fill="#bbb"/>
<line x1="352.00" y1="441.50" x2="352.00" y2="523.50" stroke="#8a8a8a" stroke-width="0.8"/>
<line x1="350.90" y1="523.50" x2="352.00" y2="523.50" stroke="#777" stroke-width="0.6"/>
<line x1="350.90" y1="520.08" x2="352.00" y2="520.08" stroke="#777" stroke-width="0.6"/>
<line x1="350.90" y1="516.67" x2="352.00" y2="516.67" stroke="#777" stroke-width="0.6"/>
<line x1="350.90" y1="513.25" x2="352.00" y2="513.25" stroke="#777" stroke-width="0.6"/>
<line x1="350.90" y1="509.83" x2="352.00" y2="509.83" stroke="#777" stroke-width="0.6"/>
<line x1="350.90" y1="506.42" x2="352.00" y2="506.42" stroke="#777" stroke-width="0.6"/>
<line x1="350.90" y1="503.00" x2="352.00" y2="503.00" stroke="#777" stroke-width="0.6"/>
<line x1="350.90" y1="499.58" x2="352.00" y2="499.58" stroke="#777" stroke-width="0.6"/>
<line x1="350.90" y1="496.17" x2="352.00" y2="496.17" stroke="#777" stroke-width="0.6"/>
<line x1="350.90" y1="492.75" x2="352.00" y2="492.75" stroke="#777" stroke-width="0.6"/>
<line x1="350.90" y1="489.33" x2="352.00" y2="489.33" stroke="#777" stroke-width="0.6"/>
<line x1="350.90" y1="485.92" x2="352.00" y2="485.92" stroke="#777" stroke-width="0.6"/>
<line x1="350.90" y1="482.50" x2="352.00" y2="482.50" stroke="#777" stroke-width="0.6"/>
<line x1="350.90" y1="479.08" x2="352.00" y2="479.08" stroke="#777" stroke-width="0.6"/>
<line x1="350.90" y1="475.67" x2="352.00" y2="475.67" stroke="#777" stroke-width="0.6"/>
<line x1="350.90" y1="472.25" x2="352.00" y2="472.25" stroke="#777" stroke-width="0.6"/>
<line x1="350.90" y1="468.83" x2="352.00" y2="468.83" stroke="#777" stroke-width="0.6"/>
<line x1="350.90" y1="465.42" x2="352.00" y2="465.42" stroke="#777" stroke-width="0.6"/>
<line x1="350.90" y1="462.00" x2="352.00" y2="462.00" stroke="#777" stroke-width="0.6"/>
<line x1="350.90" y1="458.58" x2="352.00" y2="458.58" stroke="#777" stroke-width="0.6"/>
<line x1="350.90" y1="455.17" x2="352.00" y2="455.17" stroke="#777" stroke-width="0.6"/>
<line x1="350.90" y1="451.75" x2="352.00" y2="451.75" stroke="#777" stroke-width="0.6"/>
<line x1="350.90" y1="448.33" x2="352.00" y2="448.33" stroke="#777" stroke-width="0.6"/>
<line x1="350.90" y1="444.92" x2="352.00" y2="444.92" stroke="#777" stroke-width="0.6"/>
<line x1="350.90" y1="441.50" x2="352.00" y2="441.50" stroke="#777" stroke-width="0.6"/>
<line x1="350.40" y1="523.50" x2="352.00" y2="523.50" stroke="#777" stroke-width="0.7"/>
<line x1="350.40" y1="506.75" x2="352.00" y2="506.75" stroke="#777" stroke-width="0.7"/>
<line x1="350.40" y1="490.00" x2="352.00" y2="490.00" stroke="#777" stroke-width="0.7"/>
<line x1="350.40" y1="473.25" x2="352.00" y2="473.25" stroke="#777" stroke-width="0.7"/>
<line x1="350.40" y1="456.50" x2="352.00" y2="456.50" stroke="#777" stroke-width="0.7"/>
<line x1="352.00" y1="523.50" x2="444.00" y2="523.50" stroke="#8a8a8a" stroke-width="0.9"/>
<line x1="352.00" y1="523.50" x2="352.00" y2="525.00" stroke="#999" stroke-width="0.6"/>
<line x1="370.40" y1="523.50" x2="370.40" y2="525.00" stroke="#999" stroke-width="0.6"/>
<line x1="388.80" y1="523.50" x2="388.80" y2="525.00" stroke="#999" stroke-width="0.6"/>
<line x1="407.20" y1="523.50" x2="407.20" y2="525.00" stroke="#999" stroke-width="0.6"/>
<line x1="425.60" y1="523.50" x2="425.60" y2="525.00" stroke="#999" stroke-width="0.6"/>
<line x1="444.00" y1="523.50" x2="444.00" y2="525.00" stroke="#999" stroke-width="0.6"/>
<text x="354.20" y="451.10" font-size="8.7" fill="#111" textLength="27.5" lengthAdjust="spacingAndGlyphs"><tspan font-size="6.5" dy="-0.6">+</tspan><tspan dy="0.6">4-OHT</tspan></text>
<text x="410.30" y="451.40" font-size="8.6" fill="#111" textLength="36.3" lengthAdjust="spacingAndGlyphs">G0/1:83%</text>
<text x="410.30" y="460.70" font-size="8.6" fill="#111" textLength="45.4" lengthAdjust="spacingAndGlyphs">S/G2/M:17%</text>
<polyline points="352.00,523.20 360.00,522.90 370.00,522.50 377.00,522.90 378.80,519.50 380.50,493.50 381.60,447.00 382.70,493.50 384.50,520.50 388.00,521.10 395.00,521.90 402.00,521.60 405.80,520.50 409.00,522.30 412.00,523.10 420.00,523.30" fill="none" stroke="#8c8c8c" stroke-width="0.8" stroke-linejoin="round"/>
<polygon points="376.60,523.50 377.10,520.50 377.70,514.90 378.80,498.20 379.60,481.60 380.10,465.00 380.50,451.50 380.90,447.20 381.30,451.50 382.00,465.00 382.50,481.60 383.30,498.20 384.70,514.90 385.10,520.50 385.20,523.50" fill="#5b5b5b"/>
<clipPath id="h685"><polygon points="381.50,523.50 384.50,521.00 388.00,521.50 395.00,522.20 402.00,521.90 405.80,520.90 409.00,522.50 411.00,523.50"/></clipPath>
<polygon points="381.50,523.50 384.50,521.00 388.00,521.50 395.00,522.20 402.00,521.90 405.80,520.90 409.00,522.50 411.00,523.50" fill="#fff" stroke="#888" stroke-width="0.5"/>
<g clip-path="url(#h685)"><line x1="308.80" y1="493.50" x2="338.80" y2="523.50" stroke="#444" stroke-width="0.8"/><line x1="314.20" y1="493.50" x2="344.20" y2="523.50" stroke="#444" stroke-width="0.8"/><line x1="319.60" y1="493.50" x2="349.60" y2="523.50" stroke="#444" stroke-width="0.8"/><line x1="325.00" y1="493.50" x2="355.00" y2="523.50" stroke="#444" stroke-width="0.8"/><line x1="330.40" y1="493.50" x2="360.40" y2="523.50" stroke="#444" stroke-width="0.8"/><line x1="335.80" y1="493.50" x2="365.80" y2="523.50" stroke="#444" stroke-width="0.8"/><line x1="341.20" y1="493.50" x2="371.20" y2="523.50" stroke="#444" stroke-width="0.8"/><line x1="346.60" y1="493.50" x2="376.60" y2="523.50" stroke="#444" stroke-width="0.8"/><line x1="352.00" y1="493.50" x2="382.00" y2="523.50" stroke="#444" stroke-width="0.8"/><line x1="357.40" y1="493.50" x2="387.40" y2="523.50" stroke="#444" stroke-width="0.8"/><line x1="362.80" y1="493.50" x2="392.80" y2="523.50" stroke="#444" stroke-width="0.8"/><line x1="368.20" y1="493.50" x2="398.20" y2="523.50" stroke="#444" stroke-width="0.8"/><line x1="373.60" y1="493.50" x2="403.60" y2="523.50" stroke="#444" stroke-width="0.8"/><line x1="379.00" y1="493.50" x2="409.00" y2="523.50" stroke="#444" stroke-width="0.8"/><line x1="384.40" y1="493.50" x2="414.40" y2="523.50" stroke="#444" stroke-width="0.8"/><line x1="389.80" y1="493.50" x2="419.80" y2="523.50" stroke="#444" stroke-width="0.8"/><line x1="395.20" y1="493.50" x2="425.20" y2="523.50" stroke="#444" stroke-width="0.8"/><line x1="400.60" y1="493.50" x2="430.60" y2="523.50" stroke="#444" stroke-width="0.8"/><line x1="406.00" y1="493.50" x2="436.00" y2="523.50" stroke="#444" stroke-width="0.8"/><line x1="411.40" y1="493.50" x2="441.40" y2="523.50" stroke="#444" stroke-width="0.8"/><line x1="416.80" y1="493.50" x2="446.80" y2="523.50" stroke="#444" stroke-width="0.8"/><line x1="422.20" y1="493.50" x2="452.20" y2="523.50" stroke="#444" stroke-width="0.8"/><line x1="427.60" y1="493.50" x2="457.60" y2="523.50" stroke="#444" stroke-width="0.8"/><line x1="433.00" y1="493.50" x2="463.00" y2="523.50" stroke="#444" stroke-width="0.8"/><line x1="438.40" y1="493.50" x2="468.40" y2="523.50" stroke="#444" stroke-width="0.8"/><line x1="443.80" y1="493.50" x2="473.80" y2="523.50" stroke="#444" stroke-width="0.8"/><line x1="449.20" y1="493.50" x2="479.20" y2="523.50" stroke="#444" stroke-width="0.8"/><line x1="454.60" y1="493.50" x2="484.60" y2="523.50" stroke="#444" stroke-width="0.8"/><line x1="460.00" y1="493.50" x2="490.00" y2="523.50" stroke="#444" stroke-width="0.8"/><line x1="465.40" y1="493.50" x2="495.40" y2="523.50" stroke="#444" stroke-width="0.8"/><line x1="470.80" y1="493.50" x2="500.80" y2="523.50" stroke="#444" stroke-width="0.8"/><line x1="476.20" y1="493.50" x2="506.20" y2="523.50" stroke="#444" stroke-width="0.8"/><line x1="481.60" y1="493.50" x2="511.60" y2="523.50" stroke="#444" stroke-width="0.8"/><line x1="487.00" y1="493.50" x2="517.00" y2="523.50" stroke="#444" stroke-width="0.8"/><line x1="492.40" y1="493.50" x2="522.40" y2="523.50" stroke="#444" stroke-width="0.8"/><line x1="497.80" y1="493.50" x2="527.80" y2="523.50" stroke="#444" stroke-width="0.8"/><line x1="503.20" y1="493.50" x2="533.20" y2="523.50" stroke="#444" stroke-width="0.8"/><line x1="508.60" y1="493.50" x2="538.60" y2="523.50" stroke="#444" stroke-width="0.8"/></g>
<polyline points="384.50,519.94 386.25,520.94 388.00,521.53 389.40,521.03 390.80,521.97 392.20,521.73 393.60,521.02 395.00,522.17 396.40,521.44 397.80,522.32 399.20,522.09 400.60,521.07 402.00,521.80 403.90,521.54 405.80,520.04 407.40,521.50 409.00,522.56 410.50,522.55 412.00,523.15 413.33,523.34 414.67,523.05 416.00,523.32 417.33,522.99 418.67,523.26 420.00,523.30" fill="none" stroke="#8c8c8c" stroke-width="0.8" stroke-linejoin="round"/>
<rect x="348.40" y="505.35" width="1.5" height="2.8" fill="#999"/>
<rect x="348.40" y="488.60" width="1.5" height="2.8" fill="#999"/>
<rect x="348.40" y="471.85" width="1.5" height="2.8" fill="#999"/>
<rect x="348.40" y="455.10" width="1.5" height="2.8" fill="#999"/>
<rect x="345.40" y="478.50" width="1.2" height="8.5" fill="#aaa"/>
<rect x="351.40" y="526.50" width="1.20" height="1.8" fill="#bbb"/>
<rect x="369.40" y="526.50" width="2.00" height="1.8" fill="#bbb"/>
<rect x="387.30" y="526.50" width="3.00" height="1.8" fill="#bbb"/>
<rect x="405.70" y="526.50" width="3.00" height="1.8" fill="#bbb"/>
<rect x="424.10" y="526.50" width="3.00" height="1.8" fill="#bbb"/>
<rect x="442.50" y="526.50" width="3.00" height="1.8" fill="#bbb"/>
</svg>
</body></html>
